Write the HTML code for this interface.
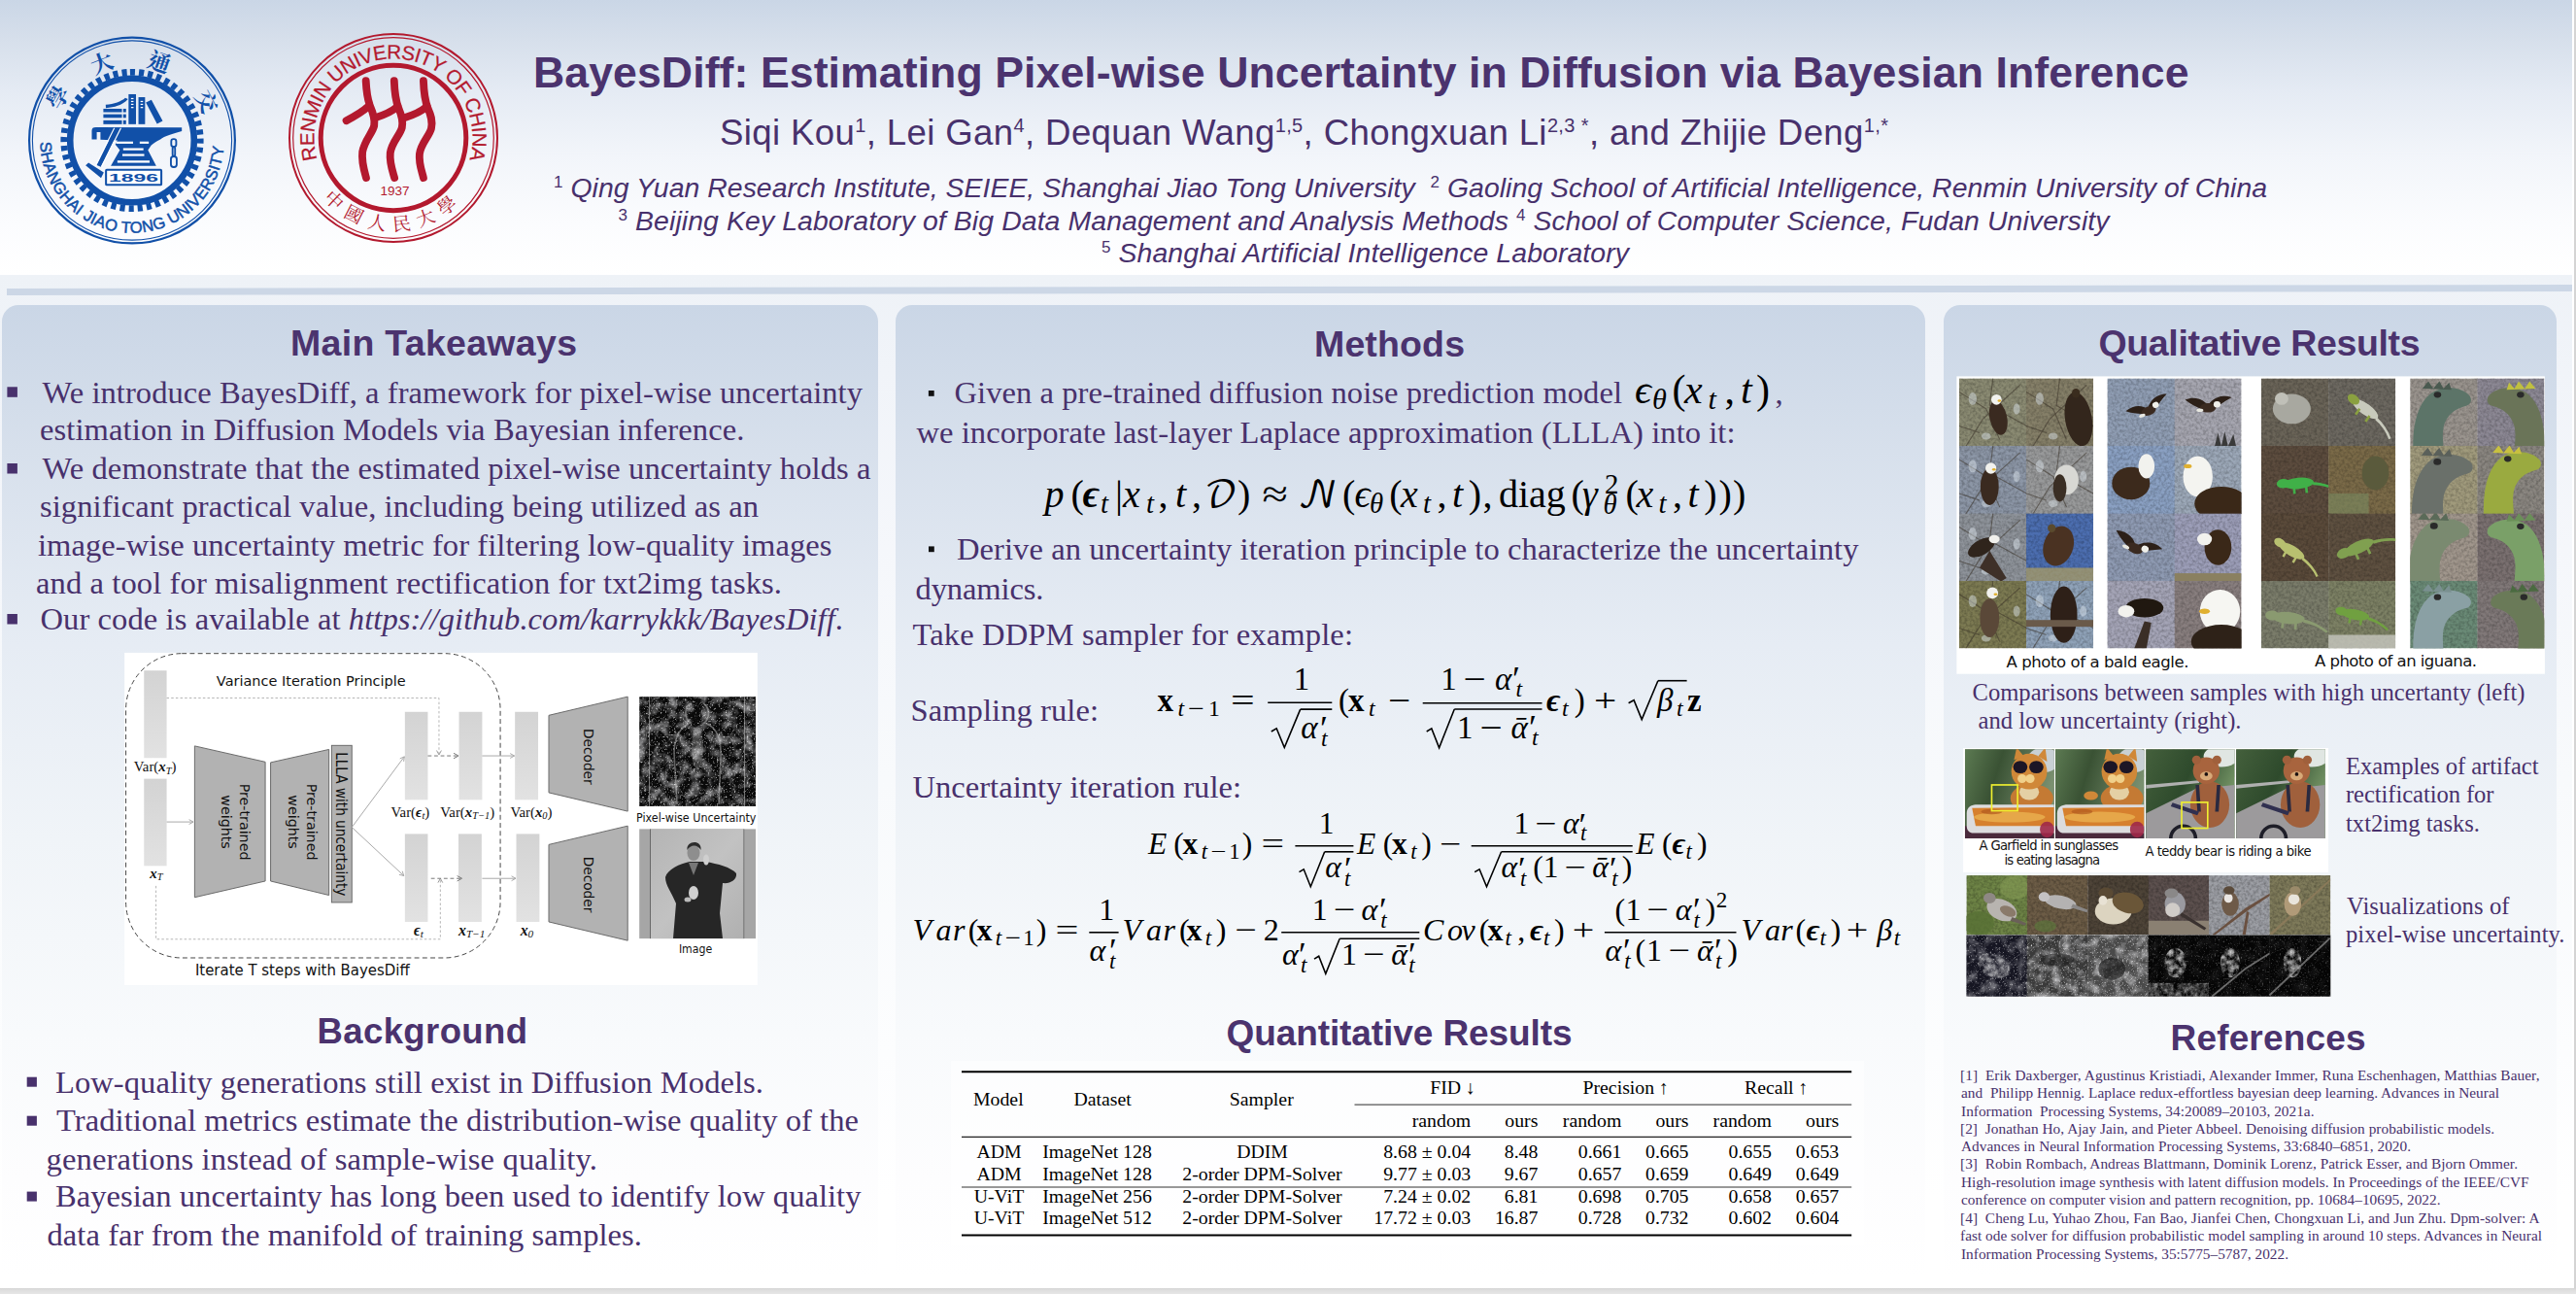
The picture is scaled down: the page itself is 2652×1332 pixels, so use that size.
<!DOCTYPE html>
<html><head><meta charset="utf-8"><title>BayesDiff poster</title><style>

*{margin:0;padding:0;box-sizing:border-box}
html,body{width:2652px;height:1332px;overflow:hidden;background:linear-gradient(#d4d4d4 1326px,#dedede 1328px,#e6e6e6 1332px)}
#poster{position:absolute;left:0;top:0;width:2650px;height:1326px;background:#fff;overflow:hidden}
#bg{position:absolute;left:0;top:283px;width:2648px;height:1043px;background:linear-gradient(#eef2f7 0,#f1f4f9 100px,#f5f7fb 280px,#f8fafc 520px,#fcfdfe 800px,#fff 950px)}
#header{position:absolute;left:0;top:0;width:2648px;height:283px;border-radius:0 0 6px 6px;background:linear-gradient(#cad6e6 0,#d6dfeb 40px,#e5ebf4 95px,#f2f5fa 160px,#fbfcfe 230px,#fff 283px)}
#bar{position:absolute;left:7px;top:297px;width:2641px;height:7px;background:#ccd7e6;transform-origin:0 0;transform:rotate(-0.087deg)}
.panel{position:absolute;top:314px;height:1012px;border-radius:17px 17px 0 0;background:linear-gradient(#cad6e6 0,#d7e0ec 150px,#e6ecf4 350px,#f0f4f8 550px,#f8fafc 750px,#fdfdfe 900px,#fff 1000px)}
#ov{position:absolute;left:0;top:0}
#ov text{white-space:pre}

</style></head><body>
<div id="poster"><div id="bg"></div><div id="header"></div><div id="bar"></div>
<div class="panel" style="left:2px;width:902px"></div>
<div class="panel" style="left:922px;width:1060px"></div>
<div class="panel" style="left:2001px;width:631px"></div></div>
<svg id="ov" width="2652" height="1332" viewBox="0 0 2652 1332">
<defs>
<linearGradient id="gbar" x1="0" y1="0" x2="0" y2="1"><stop offset="0" stop-color="#d3d3d3"/><stop offset="1" stop-color="#e2e2e2"/></linearGradient>
<linearGradient id="gphoto" x1="0" y1="0" x2="1" y2="1"><stop offset="0" stop-color="#b4b4b4"/><stop offset="0.5" stop-color="#c2c2c2"/><stop offset="1" stop-color="#b0b0b0"/></linearGradient>
<filter id="noise" x="0" y="0" width="100%" height="100%"><feTurbulence type="fractalNoise" baseFrequency="0.22" numOctaves="4" seed="3"/><feColorMatrix type="matrix" values="0 0 0 0 0.85  0 0 0 0 0.85  0 0 0 0 0.88  1.5 0 0 0 -0.62"/></filter>
<filter id="tex1" x="0" y="0" width="100%" height="100%"><feTurbulence type="fractalNoise" baseFrequency="0.35" numOctaves="2" seed="7"/><feColorMatrix type="matrix" values="0 0 0 0 0  0 0 0 0 0  0 0 0 0 0  2.2 0 0 0 -0.8"/></filter>
<filter id="noise2" x="0" y="0" width="100%" height="100%"><feTurbulence type="fractalNoise" baseFrequency="0.3" numOctaves="3" seed="11"/><feColorMatrix type="matrix" values="0 0 0 0 0.85  0 0 0 0 0.85  0 0 0 0 0.85  1.5 0 0 0 -0.62"/></filter>
<linearGradient id="gforest" x1="0" y1="0" x2="1" y2="0.3"><stop offset="0" stop-color="#5c7a52"/><stop offset="0.4" stop-color="#3a5234"/><stop offset="1" stop-color="#7a9070"/></linearGradient>
<linearGradient id="gtrees" x1="0" y1="0" x2="1" y2="0.5"><stop offset="0" stop-color="#44603c"/><stop offset="0.5" stop-color="#2e4a2c"/><stop offset="1" stop-color="#7a9a6a"/></linearGradient>
<filter id="cloud" x="0" y="0" width="100%" height="100%"><feTurbulence type="fractalNoise" baseFrequency="0.09" numOctaves="3" seed="5"/><feColorMatrix type="matrix" values="0 0 0 0 0.8  0 0 0 0 0.8  0 0 0 0 0.82  1.5 0 0 0 -0.62"/></filter>
<filter id="speck" x="0" y="0" width="100%" height="100%"><feTurbulence type="fractalNoise" baseFrequency="0.55" numOctaves="2" seed="9"/><feColorMatrix type="matrix" values="0 0 0 0 0.9  0 0 0 0 0.9  0 0 0 0 0.9  2.8 0 0 0 -1.6"/></filter>
<filter id="cloudin" x="0" y="0" width="100%" height="100%"><feTurbulence type="fractalNoise" baseFrequency="0.12" numOctaves="3" seed="4"/><feColorMatrix type="matrix" values="0 0 0 0 0.85  0 0 0 0 0.85  0 0 0 0 0.85  1.5 0 0 0 -0.45"/><feComposite in2="SourceAlpha" operator="in"/></filter>
</defs>
<text x="549.0" y="90.0" font-size="44.6" font-family="'Liberation Sans', Arial, sans-serif" fill="#4b336e" font-weight="bold" textLength="1704.5" lengthAdjust="spacing">BayesDiff: Estimating Pixel-wise Uncertainty in Diffusion via Bayesian Inference</text>
<text x="741.0" y="148.7" font-size="36.6" font-family="'Liberation Sans', Arial, sans-serif" fill="#48316c" textLength="1203.0" lengthAdjust="spacing"><tspan dy="0">Siqi Kou</tspan><tspan font-size="20" dy="-12.5" >1</tspan><tspan dy="12.5">, Lei Gan</tspan><tspan font-size="20" dy="-12.5" >4</tspan><tspan dy="12.5">, Dequan Wang</tspan><tspan font-size="20" dy="-12.5" >1,5</tspan><tspan dy="12.5">, Chongxuan Li</tspan><tspan font-size="20" dy="-12.5" >2,3 *</tspan><tspan dy="12.5">, and Zhijie Deng</tspan><tspan font-size="20" dy="-12.5" >1,*</tspan></text>
<text x="570.0" y="202.6" font-size="28.4" font-family="'Liberation Sans', Arial, sans-serif" fill="#48316c" font-style="italic" textLength="1764.0" lengthAdjust="spacing"><tspan font-size="17" dy="-10" font-style="normal">1</tspan><tspan dy="10"> Qing Yuan Research Institute, SEIEE, Shanghai Jiao Tong University  </tspan><tspan font-size="17" dy="-10" font-style="normal">2</tspan><tspan dy="10"> Gaoling School of Artificial Intelligence, Renmin University of China</tspan></text>
<text x="636.5" y="236.8" font-size="28.4" font-family="'Liberation Sans', Arial, sans-serif" fill="#48316c" font-style="italic" textLength="1535.0" lengthAdjust="spacing"><tspan font-size="17" dy="-10" font-style="normal">3</tspan><tspan dy="10"> Beijing Key Laboratory of Big Data Management and Analysis Methods </tspan><tspan font-size="17" dy="-10" font-style="normal">4</tspan><tspan dy="10"> School of Computer Science, Fudan University</tspan></text>
<text x="1134.0" y="269.5" font-size="28.4" font-family="'Liberation Sans', Arial, sans-serif" fill="#48316c" font-style="italic" textLength="543.0" lengthAdjust="spacing"><tspan font-size="17" dy="-10" font-style="normal">5</tspan><tspan dy="10"> Shanghai Artificial Intelligence Laboratory</tspan></text>
<g><circle cx="136" cy="144.5" r="105.9" fill="none" stroke="#1150a8" stroke-width="2.2"/><circle cx="136" cy="144.5" r="102.6" fill="none" stroke="#1150a8" stroke-width="1.1"/><circle cx="136" cy="144.5" r="63.8" fill="none" stroke="#1150a8" stroke-width="6.6"/><circle cx="136" cy="144.5" r="70.2" fill="none" stroke="#1150a8" stroke-width="6.8" stroke-dasharray="5.146 4.043" transform="rotate(-91.7 136 144.5)"/><path id="sjtuarc" d="M41.50,145.32 A94.5,94.5 0 0 0 230.50,145.32" fill="none"/><text font-family="'Liberation Sans', Arial, sans-serif" font-size="16.5" fill="#1150a8" stroke="#1150a8" stroke-width="0.5"><textPath href="#sjtuarc" startOffset="1" textLength="289.9" lengthAdjust="spacing">SHANGHAI JIAO TONG UNIVERSITY</textPath></text><text x="0" y="8" font-family="'Liberation Serif', 'Noto Serif CJK TC', 'Noto Serif CJK SC', serif" font-size="23" font-weight="bold" fill="#1150a8" text-anchor="middle" transform="translate(59.9,100.2) rotate(-59.8)">學</text><text x="0" y="8" font-family="'Liberation Serif', 'Noto Serif CJK TC', 'Noto Serif CJK SC', serif" font-size="23" font-weight="bold" fill="#1150a8" text-anchor="middle" transform="translate(105.1,65.3) rotate(-21.3)">大</text><text x="0" y="8" font-family="'Liberation Serif', 'Noto Serif CJK TC', 'Noto Serif CJK SC', serif" font-size="23" font-weight="bold" fill="#1150a8" text-anchor="middle" transform="translate(163.8,64.2) rotate(19.1)">通</text><text x="0" y="8" font-family="'Liberation Serif', 'Noto Serif CJK TC', 'Noto Serif CJK SC', serif" font-size="23" font-weight="bold" fill="#1150a8" text-anchor="middle" transform="translate(212.2,104.7) rotate(62.4)">交</text><g fill="#1150a8" transform="translate(86,90) scale(0.08503)"><rect x="240" y="258" width="225" height="42"/><rect x="240" y="325" width="225" height="43"/><rect x="240" y="398" width="225" height="47"/><rect x="480" y="258" width="35" height="42"/><rect x="480" y="325" width="35" height="43"/><rect x="480" y="398" width="35" height="47"/><path d="M268,210 L270,250 C380,240 460,212 512,168 L538,142 L505,126 C455,172 372,198 268,210 Z"/><rect x="545" y="82" width="90" height="363"/><rect x="665" y="118" width="80" height="327"/><path d="M755,182 L822,150 L958,405 L890,442 Z"/><path d="M100,525 C100,492 115,482 150,482 L1190,486 L1190,530 C1080,560 980,590 930,630 C880,650 850,680 820,700 L780,760 L880,950 L330,950 L440,760 L385,690 L410,640 L205,632 L205,540 L160,540 L160,628 L100,628 Z"/><path d="M380,495 L440,495 L210,960 L160,940 Z"/><path d="M25,945 L60,910 L245,1030 L212,1098 Z"/><g fill="none" stroke="#1150a8" stroke-width="22"><rect x="1062" y="625" width="60" height="95" rx="28"/><rect x="1078" y="720" width="30" height="110" rx="15"/><rect x="1058" y="835" width="70" height="130" rx="32"/></g><rect x="272" y="997" width="670" height="182" rx="10" fill="#fff" stroke="#1150a8" stroke-width="24"/><g fill="#fff"><rect x="395" y="655" width="205" height="26"/><rect x="680" y="655" width="110" height="26"/><rect x="480" y="735" width="245" height="26"/><rect x="470" y="805" width="265" height="26"/><rect x="410" y="885" width="390" height="27"/><rect x="575" y="128" width="30" height="14"/><rect x="575" y="163" width="30" height="14"/><rect x="575" y="198" width="30" height="14"/><rect x="575" y="236" width="30" height="14"/><rect x="690" y="163" width="30" height="14"/><rect x="690" y="198" width="30" height="14"/><rect x="690" y="236" width="30" height="14"/><path d="M365,490 L380,490 L150,950 L140,945 Z"/><path d="M445,490 L460,490 L225,960 L212,955 Z"/></g><text x="607" y="1137" font-family="'Liberation Sans', Arial, sans-serif" font-weight="bold" font-size="128" fill="#1150a8" text-anchor="middle" textLength="600" lengthAdjust="spacingAndGlyphs">1896</text></g></g>
<g><circle cx="405" cy="142" r="107" fill="none" stroke="#b3192e" stroke-width="2"/><circle cx="405" cy="142" r="103.3" fill="none" stroke="#b3192e" stroke-width="1.2"/><circle cx="405" cy="142" r="74.8" fill="none" stroke="#b3192e" stroke-width="5"/><path id="rucarc" d="M327.06,165.83 A81.5,81.5 0 1 1 482.94,165.83" fill="none"/><text font-family="'Liberation Sans', Arial, sans-serif" font-size="20.5" fill="#b3192e" stroke="#b3192e" stroke-width="0.25"><textPath href="#rucarc" startOffset="2" textLength="300.4" lengthAdjust="spacing">RENMIN UNIVERSITY OF CHINA</textPath></text><text x="0" y="7" font-family="'Liberation Serif', 'Noto Serif CJK TC', 'Noto Serif CJK SC', serif" font-size="19" fill="#b3192e" text-anchor="middle" transform="translate(344.0,206.1) rotate(43.6)">中</text><text x="0" y="7" font-family="'Liberation Serif', 'Noto Serif CJK TC', 'Noto Serif CJK SC', serif" font-size="19" fill="#b3192e" text-anchor="middle" transform="translate(364.5,220.7) rotate(27.2)">國</text><text x="0" y="7" font-family="'Liberation Serif', 'Noto Serif CJK TC', 'Noto Serif CJK SC', serif" font-size="19" fill="#b3192e" text-anchor="middle" transform="translate(388.4,228.9) rotate(10.8)">人</text><text x="0" y="7" font-family="'Liberation Serif', 'Noto Serif CJK TC', 'Noto Serif CJK SC', serif" font-size="19" fill="#b3192e" text-anchor="middle" transform="translate(413.5,230.1) rotate(-5.5)">民</text><text x="0" y="7" font-family="'Liberation Serif', 'Noto Serif CJK TC', 'Noto Serif CJK SC', serif" font-size="19" fill="#b3192e" text-anchor="middle" transform="translate(438.0,224.1) rotate(-21.9)">大</text><text x="0" y="7" font-family="'Liberation Serif', 'Noto Serif CJK TC', 'Noto Serif CJK SC', serif" font-size="19" fill="#b3192e" text-anchor="middle" transform="translate(459.9,211.5) rotate(-38.3)">學</text><text x="406.5" y="201" font-family="'Liberation Sans', Arial, sans-serif" font-size="13.5" fill="#b3192e" text-anchor="middle">1937</text><g fill="none" stroke="#b3192e" stroke-width="78" stroke-linecap="round" transform="translate(340,70) scale(0.10046)"><path d="M365,130 C370,230 375,300 405,380 C435,450 462,520 450,590 C438,660 350,740 330,860 C318,960 350,1060 368,1125"/><path d="M655,130 C658,230 665,320 700,410 C730,480 750,540 735,610 C715,690 630,760 615,870 C605,970 640,1060 658,1125"/><path d="M955,130 C958,230 965,320 1000,410 C1030,480 1052,540 1035,620 C1015,700 930,770 915,880 C905,980 940,1060 955,1125"/><path d="M395,390 C340,440 260,490 165,540"/><path d="M690,395 C640,440 560,480 460,510"/><path d="M990,395 C940,440 860,480 760,510"/></g></g>
<text x="299.0" y="365.9" font-size="37.5" font-family="'Liberation Sans', Arial, sans-serif" fill="#4b336e" font-weight="bold" textLength="295.0" lengthAdjust="spacing">Main Takeaways</text>
<text x="43.5" y="414.6" font-size="32.6" font-family="'Liberation Serif', 'Times New Roman', serif" fill="#48316c" textLength="844.5" lengthAdjust="spacing">We introduce BayesDiff, a framework for pixel-wise uncertainty</text>
<text x="41.0" y="453.4" font-size="32.6" font-family="'Liberation Serif', 'Times New Roman', serif" fill="#48316c" textLength="725.5" lengthAdjust="spacing">estimation in Diffusion Models via Bayesian inference.</text>
<text x="43.5" y="493.4" font-size="32.6" font-family="'Liberation Serif', 'Times New Roman', serif" fill="#48316c" textLength="853.0" lengthAdjust="spacing">We demonstrate that the estimated pixel-wise uncertainty holds a</text>
<text x="41.0" y="532.2" font-size="32.6" font-family="'Liberation Serif', 'Times New Roman', serif" fill="#48316c" textLength="740.0" lengthAdjust="spacing">significant practical value, including being utilized as an</text>
<text x="39.0" y="571.6" font-size="32.6" font-family="'Liberation Serif', 'Times New Roman', serif" fill="#48316c" textLength="817.5" lengthAdjust="spacing">image-wise uncertainty metric for filtering low-quality images</text>
<text x="37.0" y="611.0" font-size="32.6" font-family="'Liberation Serif', 'Times New Roman', serif" fill="#48316c" textLength="768.0" lengthAdjust="spacing">and a tool for misalignment rectification for txt2img tasks.</text>
<text x="41.5" y="648.3" font-size="32.6" font-family="'Liberation Serif', 'Times New Roman', serif" fill="#48316c" textLength="826.5" lengthAdjust="spacing">Our code is available at <tspan font-style="italic">https://github.com/karrykkk/BayesDiff</tspan>.</text>
<rect x="7.4" y="398.3" width="10.5" height="10.5" fill="#48316c" />
<rect x="7.4" y="477.0" width="10.5" height="10.5" fill="#48316c" />
<rect x="7.4" y="632.0" width="10.5" height="10.5" fill="#48316c" />
<text x="326.5" y="1074.1" font-size="36.5" font-family="'Liberation Sans', Arial, sans-serif" fill="#4b336e" font-weight="bold" textLength="216.5" lengthAdjust="spacing">Background</text>
<text x="57.0" y="1125.0" font-size="32.6" font-family="'Liberation Serif', 'Times New Roman', serif" fill="#48316c" textLength="729.0" lengthAdjust="spacing">Low-quality generations still exist in Diffusion Models.</text>
<text x="58.0" y="1163.9" font-size="32.6" font-family="'Liberation Serif', 'Times New Roman', serif" fill="#48316c" textLength="826.0" lengthAdjust="spacing">Traditional metrics estimate the distribution-wise quality of the</text>
<text x="47.5" y="1203.9" font-size="32.6" font-family="'Liberation Serif', 'Times New Roman', serif" fill="#48316c" textLength="567.5" lengthAdjust="spacing">generations instead of sample-wise quality.</text>
<text x="57.0" y="1241.8" font-size="32.6" font-family="'Liberation Serif', 'Times New Roman', serif" fill="#48316c" textLength="829.5" lengthAdjust="spacing">Bayesian uncertainty has long been used to identify low quality</text>
<text x="48.5" y="1281.8" font-size="32.6" font-family="'Liberation Serif', 'Times New Roman', serif" fill="#48316c" textLength="612.5" lengthAdjust="spacing">data far from the manifold of training samples.</text>
<rect x="27.7" y="1108.7" width="10.2" height="10.0" fill="#48316c" />
<rect x="27.7" y="1148.7" width="10.2" height="10.0" fill="#48316c" />
<rect x="27.7" y="1226.6" width="10.2" height="10.0" fill="#48316c" />
<rect x="128.2" y="671.9" width="651.6" height="342.1" fill="#fff" />
<g transform="translate(120,665) scale(0.27435)"><rect x="35" y="28" width="1405" height="1142" rx="210" fill="none" stroke="#444" stroke-width="3.6" stroke-dasharray="18 12"/><rect x="103" y="92" width="85" height="328" fill="url(#gbar)"/><rect x="103" y="498" width="85" height="327" fill="url(#gbar)"/><rect x="1082" y="247" width="86" height="330" fill="url(#gbar)"/><rect x="1285" y="247" width="87" height="330" fill="url(#gbar)"/><rect x="1495" y="247" width="87" height="330" fill="url(#gbar)"/><rect x="1082" y="705" width="86" height="330" fill="url(#gbar)"/><rect x="1283" y="705" width="87" height="330" fill="url(#gbar)"/><rect x="1500" y="705" width="87" height="330" fill="url(#gbar)"/><polygon points="293,375 558,435 558,882 293,943" fill="#b2b2b2" stroke="#6a6a6a" stroke-width="3.6"/><polygon points="578,437 797,388 797,935 578,882" fill="#b2b2b2" stroke="#6a6a6a" stroke-width="3.6"/><rect x="807" y="373" width="76" height="589" fill="#b2b2b2" stroke="#6a6a6a" stroke-width="3.6"/><polygon points="1622,260 1918,190 1918,620 1622,550" fill="#b2b2b2" stroke="#6a6a6a" stroke-width="3.6"/><polygon points="1622,745 1918,675 1918,1105 1622,1035" fill="#b2b2b2" stroke="#6a6a6a" stroke-width="3.6"/><line x1="188" y1="660" x2="288" y2="660" stroke="#a8a8a8" stroke-width="3.6"/><path d="M272.0,668.8 L288.0,660.0 L272.0,651.2" fill="none" stroke="#a8a8a8" stroke-width="3.6"/><line x1="883" y1="680" x2="1080" y2="415" stroke="#a8a8a8" stroke-width="3.6"/><path d="M1077.5,433.1 L1080.0,415.0 L1063.4,422.6" fill="none" stroke="#a8a8a8" stroke-width="3.6"/><line x1="883" y1="680" x2="1078" y2="862" stroke="#a8a8a8" stroke-width="3.6"/><path d="M1060.3,857.5 L1078.0,862.0 L1072.3,844.6" fill="none" stroke="#a8a8a8" stroke-width="3.6"/><line x1="1372" y1="412" x2="1493" y2="412" stroke="#a8a8a8" stroke-width="3.6"/><path d="M1477.0,420.8 L1493.0,412.0 L1477.0,403.2" fill="none" stroke="#a8a8a8" stroke-width="3.6"/><line x1="1372" y1="872" x2="1498" y2="872" stroke="#a8a8a8" stroke-width="3.6"/><path d="M1482.0,880.8 L1498.0,872.0 L1482.0,863.2" fill="none" stroke="#a8a8a8" stroke-width="3.6"/><polyline points="188,195 1210,195 1210,408" fill="none" stroke="#aaa" stroke-width="3.2" stroke-dasharray="9 8"/><path d="M1201.2,392.0 L1210.0,408.0 L1218.8,392.0" fill="none" stroke="#999" stroke-width="3.6"/><line x1="1168" y1="412" x2="1283" y2="412" stroke="#777" stroke-width="3.6" stroke-dasharray="14 10"/><path d="M1265.0,421.9 L1283.0,412.0 L1265.0,402.1" fill="none" stroke="#777" stroke-width="3.6"/><polyline points="148,900 148,1100 1215,1100 1215,872" fill="none" stroke="#aaa" stroke-width="3.2" stroke-dasharray="9 8"/><path d="M1223.8,888.0 L1215.0,872.0 L1206.2,888.0" fill="none" stroke="#999" stroke-width="3.6"/><line x1="1180" y1="872" x2="1296" y2="872" stroke="#777" stroke-width="3.6" stroke-dasharray="14 10"/><path d="M1278.0,881.9 L1296.0,872.0 L1278.0,862.1" fill="none" stroke="#777" stroke-width="3.6"/><text x="375" y="150" font-family="'DejaVu Sans', 'Liberation Sans', sans-serif" font-size="52" fill="#111" textLength="710" lengthAdjust="spacingAndGlyphs">Variance Iteration Principle</text><text x="295" y="1235" font-family="'DejaVu Sans', 'Liberation Sans', sans-serif" font-size="56" fill="#111" textLength="805" lengthAdjust="spacingAndGlyphs">Iterate T steps with BayesDiff</text><text x="1950" y="660" font-family="'DejaVu Sans', 'Liberation Sans', sans-serif" font-size="44" fill="#111" textLength="450" lengthAdjust="spacingAndGlyphs">Pixel-wise Uncertainty</text><text x="2110" y="1150" font-family="'DejaVu Sans', 'Liberation Sans', sans-serif" font-size="44" fill="#111" textLength="125" lengthAdjust="spacingAndGlyphs">Image</text><text x="463" y="660" font-family="'DejaVu Sans', 'Liberation Sans', sans-serif" font-size="52" fill="#111" text-anchor="middle" transform="rotate(90 463 660)">Pre-trained</text><text x="395" y="660" font-family="'DejaVu Sans', 'Liberation Sans', sans-serif" font-size="52" fill="#111" text-anchor="middle" transform="rotate(90 395 660)">weights</text><text x="713" y="660" font-family="'DejaVu Sans', 'Liberation Sans', sans-serif" font-size="52" fill="#111" text-anchor="middle" transform="rotate(90 713 660)">Pre-trained</text><text x="645" y="660" font-family="'DejaVu Sans', 'Liberation Sans', sans-serif" font-size="52" fill="#111" text-anchor="middle" transform="rotate(90 645 660)">weights</text><text x="825" y="668" font-family="'DejaVu Sans', 'Liberation Sans', sans-serif" font-size="56" fill="#111" textLength="540" lengthAdjust="spacingAndGlyphs" text-anchor="middle" transform="rotate(90 825 668)">LLLA with uncertainty</text><text x="1755" y="415" font-family="'DejaVu Sans', 'Liberation Sans', sans-serif" font-size="50" fill="#111" text-anchor="middle" transform="rotate(90 1755 415)">Decoder</text><text x="1755" y="895" font-family="'DejaVu Sans', 'Liberation Sans', sans-serif" font-size="50" fill="#111" text-anchor="middle" transform="rotate(90 1755 895)">Decoder</text><text x="65" y="470" font-family="'Liberation Serif', 'Times New Roman', serif" font-size="54" fill="#111"><tspan dy="0">Var(</tspan><tspan dy="0" font-weight="bold" font-style="italic">x</tspan><tspan font-style="italic" font-size="38" dy="10">T</tspan><tspan dy="-10">)</tspan></text><text x="125" y="870" font-family="'Liberation Serif', 'Times New Roman', serif" font-size="54" fill="#111"><tspan dy="0" font-weight="bold" font-style="italic">x</tspan><tspan font-style="italic" font-size="38" dy="10">T</tspan></text><text x="1030" y="640" font-family="'Liberation Serif', 'Times New Roman', serif" font-size="54" fill="#111"><tspan dy="0">Var(</tspan><tspan dy="0" font-weight="bold" font-style="italic">ϵ</tspan><tspan font-style="italic" font-size="38" dy="10">t</tspan><tspan dy="-10">)</tspan></text><text x="1215" y="640" font-family="'Liberation Serif', 'Times New Roman', serif" font-size="54" fill="#111"><tspan dy="0">Var(</tspan><tspan dy="0" font-weight="bold" font-style="italic">x</tspan><tspan font-style="italic" font-size="38" dy="10">T−1</tspan><tspan dy="-10">)</tspan></text><text x="1478" y="640" font-family="'Liberation Serif', 'Times New Roman', serif" font-size="54" fill="#111"><tspan dy="0">Var(</tspan><tspan dy="0" font-weight="bold" font-style="italic">x</tspan><tspan font-style="italic" font-size="38" dy="10">0</tspan><tspan dy="-10">)</tspan></text><text x="1115" y="1085" font-family="'Liberation Serif', 'Times New Roman', serif" font-size="58" fill="#111"><tspan dy="0" font-weight="bold" font-style="italic">ϵ</tspan><tspan font-style="italic" font-size="41" dy="10">t</tspan></text><text x="1283" y="1085" font-family="'Liberation Serif', 'Times New Roman', serif" font-size="58" fill="#111"><tspan dy="0" font-weight="bold" font-style="italic">x</tspan><tspan font-style="italic" font-size="41" dy="10">T−1</tspan></text><text x="1515" y="1085" font-family="'Liberation Serif', 'Times New Roman', serif" font-size="58" fill="#111"><tspan dy="0" font-weight="bold" font-style="italic">x</tspan><tspan font-style="italic" font-size="41" dy="10">0</tspan></text></g>
<rect x="658.2" y="717.2" width="119.8" height="112.7" fill="#0a0a0a" />
<rect x="658.2" y="717.2" width="119.8" height="112.7" fill="#fff" filter="url(#cloud)"/>
<rect x="658.2" y="717.2" width="119.8" height="112.7" fill="#fff" filter="url(#speck)"/>
<line x1="668.5" y1="717.2" x2="668.5" y2="829.9" stroke="#ddd" stroke-width="0.8" opacity="0.6"/>
<line x1="766.5" y1="717.2" x2="766.5" y2="829.9" stroke="#ddd" stroke-width="0.8" opacity="0.6"/>
<path d="M712,724 C704,726 704,740 711,744 C700,748 694,760 694,775 L697,828 M724,724 C731,728 731,740 725,744 C738,748 743,760 742,780 L740,828" fill="none" stroke="#ccc" stroke-width="1.6" opacity="0.45"/>
<ellipse cx="718" cy="770" rx="6" ry="22" fill="#ddd" opacity="0.25"/>
<rect x="658.2" y="853.4" width="119.8" height="112.7" fill="#a6a6a6" />
<rect x="669.5" y="853.4" width="96.3" height="112.7" fill="url(#gphoto)" />
<line x1="669.5" y1="853.4" x2="669.5" y2="966.1" stroke="#555" stroke-width="0.8" />
<line x1="765.8" y1="853.4" x2="765.8" y2="966.1" stroke="#666" stroke-width="0.8" />
<g transform="translate(0,5)"><path d="M693,961 L696,925 C691,913 685,906 685,898 C687,890 700,884 710,882 L726,882 C739,884 753,888 758,894 C759,901 751,905 744,904 L741,935 L744,961 Z" fill="#262626"/><ellipse cx="714" cy="873" rx="6.5" ry="8" fill="#8e8e8e"/><path d="M707.5,870 C706,860 723,859 721.5,870 C718,864 711,864 707.5,870 Z" fill="#2c2c2c"/><ellipse cx="714" cy="914" rx="5" ry="7" fill="#cfcfcf"/><ellipse cx="727" cy="880" rx="3" ry="5.5" fill="#cfcfcf"/><ellipse cx="708" cy="921" rx="3.5" ry="2.5" fill="#bbb"/><path d="M709,883 L714,896 L719,883 Z" fill="#777"/></g>
<text x="1353.0" y="367.0" font-size="37.5" font-family="'Liberation Sans', Arial, sans-serif" fill="#4b336e" font-weight="bold" textLength="155.0" lengthAdjust="spacing">Methods</text>
<rect x="955.9" y="402.0" width="5.8" height="5.8" fill="#111" />
<rect x="956.0" y="562.4" width="5.8" height="5.8" fill="#111" />
<text x="982.5" y="415.2" font-size="32.6" font-family="'Liberation Serif', 'Times New Roman', serif" fill="#48316c" textLength="687.5" lengthAdjust="spacing">Given a pre-trained diffusion noise prediction model</text>
<text x="1683.0" y="415.4" font-size="42.0" fill="#000" font-family="'Liberation Serif', 'DejaVu Serif', serif" font-style="italic">ϵ</text>
<text x="1701.0" y="421.4" font-size="30.2" fill="#000" font-family="'Liberation Serif', 'DejaVu Serif', serif" font-style="italic">θ</text>
<text x="1721.5" y="415.4" font-size="42.0" fill="#000" font-family="'Liberation Serif', 'DejaVu Serif', serif">(</text>
<text x="1734.0" y="415.4" font-size="42.0" fill="#000" font-family="'Liberation Serif', 'DejaVu Serif', serif" font-style="italic">x</text>
<text x="1758.5" y="421.4" font-size="30.2" fill="#000" font-family="'Liberation Serif', 'DejaVu Serif', serif" font-style="italic">t</text>
<text x="1775.5" y="415.4" font-size="42.0" fill="#000" font-family="'Liberation Serif', 'DejaVu Serif', serif">,</text>
<text x="1792.0" y="415.4" font-size="42.0" fill="#000" font-family="'Liberation Serif', 'DejaVu Serif', serif" font-style="italic">t</text>
<text x="1808.0" y="415.4" font-size="42.0" fill="#000" font-family="'Liberation Serif', 'DejaVu Serif', serif">)</text>
<text x="1827.5" y="415.2" font-size="32.6" font-family="'Liberation Serif', 'Times New Roman', serif" fill="#48316c">,</text>
<text x="943.5" y="456.0" font-size="32.6" font-family="'Liberation Serif', 'Times New Roman', serif" fill="#48316c" textLength="843.0" lengthAdjust="spacing">we incorporate last-layer Laplace approximation (LLLA) into it:</text>
<text x="1075.5" y="521.6" font-size="40.0" fill="#000" font-family="'Liberation Serif', 'DejaVu Serif', serif" font-style="italic">p</text>
<text x="1102.5" y="521.6" font-size="40.0" fill="#000" font-family="'Liberation Serif', 'DejaVu Serif', serif">(</text>
<text x="1114.5" y="521.6" font-size="40.0" fill="#000" font-family="'Liberation Serif', 'DejaVu Serif', serif" font-weight="bold" font-style="italic">ϵ</text>
<text x="1133.0" y="527.6" font-size="28.8" fill="#000" font-family="'Liberation Serif', 'DejaVu Serif', serif" font-style="italic">t</text>
<text x="1148.0" y="521.6" font-size="40.0" fill="#000" font-family="'Liberation Serif', 'DejaVu Serif', serif">|</text>
<text x="1156.0" y="521.6" font-size="40.0" fill="#000" font-family="'Liberation Serif', 'DejaVu Serif', serif" font-style="italic">x</text>
<text x="1180.0" y="527.6" font-size="28.8" fill="#000" font-family="'Liberation Serif', 'DejaVu Serif', serif" font-style="italic">t</text>
<text x="1192.5" y="521.6" font-size="40.0" fill="#000" font-family="'Liberation Serif', 'DejaVu Serif', serif">,</text>
<text x="1210.0" y="521.6" font-size="40.0" fill="#000" font-family="'Liberation Serif', 'DejaVu Serif', serif" font-style="italic">t</text>
<text x="1227.0" y="521.6" font-size="40.0" fill="#000" font-family="'Liberation Serif', 'DejaVu Serif', serif">,</text>
<text x="1240.0" y="521.6" font-size="36.8" fill="#000" font-family="'DejaVu Math TeX Gyre', 'DejaVu Serif', serif">𝒟</text>
<text x="1274.0" y="521.6" font-size="40.0" fill="#000" font-family="'Liberation Serif', 'DejaVu Serif', serif">)</text>
<text x="1082.92" y="521.6" transform="scale(1.2,1)" font-size="40.0" fill="#000" font-family="'Liberation Serif', 'DejaVu Serif', serif">≈</text>
<text x="1336.0" y="521.6" font-size="36.8" fill="#000" font-family="'DejaVu Math TeX Gyre', 'DejaVu Serif', serif">𝒩</text>
<text x="1382.0" y="521.6" font-size="40.0" fill="#000" font-family="'Liberation Serif', 'DejaVu Serif', serif">(</text>
<text x="1394.5" y="521.6" font-size="40.0" fill="#000" font-family="'Liberation Serif', 'DejaVu Serif', serif" font-style="italic">ϵ</text>
<text x="1410.0" y="527.6" font-size="28.8" fill="#000" font-family="'Liberation Serif', 'DejaVu Serif', serif" font-style="italic">θ</text>
<text x="1430.2" y="521.6" font-size="40.0" fill="#000" font-family="'Liberation Serif', 'DejaVu Serif', serif">(</text>
<text x="1442.0" y="521.6" font-size="40.0" fill="#000" font-family="'Liberation Serif', 'DejaVu Serif', serif" font-style="italic">x</text>
<text x="1465.0" y="527.6" font-size="28.8" fill="#000" font-family="'Liberation Serif', 'DejaVu Serif', serif" font-style="italic">t</text>
<text x="1479.5" y="521.6" font-size="40.0" fill="#000" font-family="'Liberation Serif', 'DejaVu Serif', serif">,</text>
<text x="1495.0" y="521.6" font-size="40.0" fill="#000" font-family="'Liberation Serif', 'DejaVu Serif', serif" font-style="italic">t</text>
<text x="1511.8" y="521.6" font-size="40.0" fill="#000" font-family="'Liberation Serif', 'DejaVu Serif', serif">)</text>
<text x="1526.5" y="521.6" font-size="40.0" fill="#000" font-family="'Liberation Serif', 'DejaVu Serif', serif">,</text>
<text x="1543.0" y="521.6" font-size="40.0" fill="#000" font-family="'Liberation Serif', 'DejaVu Serif', serif">diag</text>
<text x="1617.4" y="521.6" font-size="40.0" fill="#000" font-family="'Liberation Serif', 'DejaVu Serif', serif">(</text>
<text x="1629.0" y="521.6" font-size="40.0" fill="#000" font-family="'Liberation Serif', 'DejaVu Serif', serif" font-style="italic">γ</text>
<text x="1652.0" y="507.6" font-size="28.8" fill="#000" font-family="'Liberation Serif', 'DejaVu Serif', serif">2</text>
<text x="1650.5" y="528.6" font-size="28.8" fill="#000" font-family="'Liberation Serif', 'DejaVu Serif', serif" font-style="italic">θ</text>
<text x="1673.4" y="521.6" font-size="40.0" fill="#000" font-family="'Liberation Serif', 'DejaVu Serif', serif">(</text>
<text x="1684.5" y="521.6" font-size="40.0" fill="#000" font-family="'Liberation Serif', 'DejaVu Serif', serif" font-style="italic">x</text>
<text x="1707.5" y="527.6" font-size="28.8" fill="#000" font-family="'Liberation Serif', 'DejaVu Serif', serif" font-style="italic">t</text>
<text x="1722.0" y="521.6" font-size="40.0" fill="#000" font-family="'Liberation Serif', 'DejaVu Serif', serif">,</text>
<text x="1737.5" y="521.6" font-size="40.0" fill="#000" font-family="'Liberation Serif', 'DejaVu Serif', serif" font-style="italic">t</text>
<text x="1754.2" y="521.6" font-size="40.0" fill="#000" font-family="'Liberation Serif', 'DejaVu Serif', serif">)</text>
<text x="1769.5" y="521.6" font-size="40.0" fill="#000" font-family="'Liberation Serif', 'DejaVu Serif', serif">)</text>
<text x="1784.1" y="521.6" font-size="40.0" fill="#000" font-family="'Liberation Serif', 'DejaVu Serif', serif">)</text>
<text x="985.0" y="576.0" font-size="32.6" font-family="'Liberation Serif', 'Times New Roman', serif" fill="#48316c" textLength="928.5" lengthAdjust="spacing">Derive an uncertainty iteration principle to characterize the uncertainty</text>
<text x="942.5" y="616.8" font-size="32.6" font-family="'Liberation Serif', 'Times New Roman', serif" fill="#48316c" textLength="132.0" lengthAdjust="spacing">dynamics.</text>
<text x="939.5" y="663.8" font-size="32.6" font-family="'Liberation Serif', 'Times New Roman', serif" fill="#48316c" textLength="453.5" lengthAdjust="spacing">Take DDPM sampler for example:</text>
<text x="937.5" y="741.6" font-size="32.6" font-family="'Liberation Serif', 'Times New Roman', serif" fill="#48316c" textLength="193.5" lengthAdjust="spacing">Sampling rule:</text>
<text x="939.5" y="820.8" font-size="32.6" font-family="'Liberation Serif', 'Times New Roman', serif" fill="#48316c" textLength="338.5" lengthAdjust="spacing">Uncertainty iteration rule:</text>
<text x="1191.5" y="731.6" font-size="33.0" fill="#000" font-family="'Liberation Serif', 'DejaVu Serif', serif" font-weight="bold">x</text>
<text x="1212.5" y="737.2" font-size="23.8" fill="#000" font-family="'Liberation Serif', 'DejaVu Serif', serif" font-style="italic">t</text>
<text x="978.40" y="737.2" transform="scale(1.25,1)" font-size="23.8" fill="#000" font-family="'Liberation Serif', 'DejaVu Serif', serif">−</text>
<text x="1244.0" y="737.2" font-size="23.8" fill="#000" font-family="'Liberation Serif', 'DejaVu Serif', serif">1</text>
<text x="952.63" y="731.6" transform="scale(1.33,1)" font-size="33.0" fill="#000" font-family="'Liberation Serif', 'DejaVu Serif', serif">=</text>
<text x="1331.8" y="709.6" font-size="33.0" fill="#000" font-family="'Liberation Serif', 'DejaVu Serif', serif">1</text>
<text x="1339.3" y="760.0" font-size="33.0" fill="#000" font-family="'Liberation Serif', 'DejaVu Serif', serif" font-style="italic">α</text>
<text x="1359.0" y="761.5" font-size="36.3" fill="#000" font-family="'Liberation Serif', 'DejaVu Serif', serif">′</text>
<text x="1360.0" y="767.6" font-size="23.8" fill="#000" font-family="'Liberation Serif', 'DejaVu Serif', serif" font-style="italic">t</text>
<text x="1378.0" y="731.6" font-size="33.0" fill="#000" font-family="'Liberation Serif', 'DejaVu Serif', serif">(</text>
<text x="1388.0" y="731.6" font-size="33.0" fill="#000" font-family="'Liberation Serif', 'DejaVu Serif', serif" font-weight="bold">x</text>
<text x="1409.0" y="737.2" font-size="23.8" fill="#000" font-family="'Liberation Serif', 'DejaVu Serif', serif" font-style="italic">t</text>
<text x="1143.20" y="731.6" transform="scale(1.25,1)" font-size="33.0" fill="#000" font-family="'Liberation Serif', 'DejaVu Serif', serif">−</text>
<text x="1483.2" y="709.6" font-size="33.0" fill="#000" font-family="'Liberation Serif', 'DejaVu Serif', serif">1</text>
<text x="1205.20" y="709.6" transform="scale(1.25,1)" font-size="33.0" fill="#000" font-family="'Liberation Serif', 'DejaVu Serif', serif">−</text>
<text x="1539.0" y="709.6" font-size="33.0" fill="#000" font-family="'Liberation Serif', 'DejaVu Serif', serif" font-style="italic">α</text>
<text x="1557.0" y="711.1" font-size="36.3" fill="#000" font-family="'Liberation Serif', 'DejaVu Serif', serif">′</text>
<text x="1560.5" y="717.1" font-size="23.8" fill="#000" font-family="'Liberation Serif', 'DejaVu Serif', serif" font-style="italic">t</text>
<text x="1500.1" y="759.8" font-size="33.0" fill="#000" font-family="'Liberation Serif', 'DejaVu Serif', serif">1</text>
<text x="1218.80" y="759.8" transform="scale(1.25,1)" font-size="33.0" fill="#000" font-family="'Liberation Serif', 'DejaVu Serif', serif">−</text>
<text x="1555.5" y="759.8" font-size="33.0" fill="#000" font-family="'Liberation Serif', 'DejaVu Serif', serif" font-style="italic">ᾱ</text>
<text x="1574.0" y="761.3" font-size="36.3" fill="#000" font-family="'Liberation Serif', 'DejaVu Serif', serif">′</text>
<text x="1577.0" y="767.3" font-size="23.8" fill="#000" font-family="'Liberation Serif', 'DejaVu Serif', serif" font-style="italic">t</text>
<text x="1592.0" y="731.6" font-size="33.0" fill="#000" font-family="'Liberation Serif', 'DejaVu Serif', serif" font-weight="bold" font-style="italic">ϵ</text>
<text x="1608.0" y="737.2" font-size="23.8" fill="#000" font-family="'Liberation Serif', 'DejaVu Serif', serif" font-style="italic">t</text>
<text x="1620.8" y="731.6" font-size="33.0" fill="#000" font-family="'Liberation Serif', 'DejaVu Serif', serif">)</text>
<text x="1312.80" y="731.6" transform="scale(1.25,1)" font-size="33.0" fill="#000" font-family="'Liberation Serif', 'DejaVu Serif', serif">+</text>
<text x="1706.0" y="731.6" font-size="33.0" fill="#000" font-family="'Liberation Serif', 'DejaVu Serif', serif" font-style="italic">β</text>
<text x="1726.0" y="737.2" font-size="23.8" fill="#000" font-family="'Liberation Serif', 'DejaVu Serif', serif" font-style="italic">t</text>
<text x="1737.0" y="731.6" font-size="33.0" fill="#000" font-family="'Liberation Serif', 'DejaVu Serif', serif" font-weight="bold">z</text>
<line x1="1305.2" y1="723.3" x2="1371.3" y2="723.3" stroke="#000" stroke-width="1.6" />
<path d="M1308.8,753.0 L1314.2,749.8 L1322.3,769.5 L1338.7,730.1" fill="none" stroke="#000" stroke-width="1.6" stroke-linejoin="miter"/>
<line x1="1338.7" y1="730.1" x2="1371.3" y2="730.1" stroke="#000" stroke-width="1.6" />
<line x1="1464.7" y1="723.7" x2="1587.5" y2="723.7" stroke="#000" stroke-width="1.6" />
<path d="M1468.7,753.0 L1473.8,749.9 L1481.6,769.7 L1497.3,730.0" fill="none" stroke="#000" stroke-width="1.6" stroke-linejoin="miter"/>
<line x1="1497.3" y1="730.0" x2="1587.5" y2="730.0" stroke="#000" stroke-width="1.6" />
<path d="M1676.6,723.8 L1682.1,720.7 L1690.2,740.6 L1706.9,700.7" fill="none" stroke="#000" stroke-width="1.6" stroke-linejoin="miter"/>
<line x1="1706.9" y1="700.7" x2="1736.6" y2="700.7" stroke="#000" stroke-width="1.6" />
<text x="1182.0" y="878.9" font-size="31.5" fill="#000" font-family="'Liberation Serif', 'DejaVu Serif', serif" font-style="italic">E</text>
<text x="1208.3" y="878.9" font-size="31.5" fill="#000" font-family="'Liberation Serif', 'DejaVu Serif', serif">(</text>
<text x="1217.5" y="878.9" font-size="31.5" fill="#000" font-family="'Liberation Serif', 'DejaVu Serif', serif" font-weight="bold">x</text>
<text x="1236.8" y="883.9" font-size="22.7" fill="#000" font-family="'Liberation Serif', 'DejaVu Serif', serif" font-style="italic">t</text>
<text x="997.20" y="883.9" transform="scale(1.25,1)" font-size="22.7" fill="#000" font-family="'Liberation Serif', 'DejaVu Serif', serif">−</text>
<text x="1265.3" y="883.9" font-size="22.7" fill="#000" font-family="'Liberation Serif', 'DejaVu Serif', serif">1</text>
<text x="1278.7" y="878.9" font-size="31.5" fill="#000" font-family="'Liberation Serif', 'DejaVu Serif', serif">)</text>
<text x="976.32" y="878.9" transform="scale(1.33,1)" font-size="31.5" fill="#000" font-family="'Liberation Serif', 'DejaVu Serif', serif">=</text>
<text x="1357.8" y="858.0" font-size="31.5" fill="#000" font-family="'Liberation Serif', 'DejaVu Serif', serif">1</text>
<text x="1364.3" y="903.4" font-size="31.5" fill="#000" font-family="'Liberation Serif', 'DejaVu Serif', serif" font-style="italic">α</text>
<text x="1384.0" y="904.9" font-size="34.7" fill="#000" font-family="'Liberation Serif', 'DejaVu Serif', serif">′</text>
<text x="1384.0" y="911.5" font-size="22.7" fill="#000" font-family="'Liberation Serif', 'DejaVu Serif', serif" font-style="italic">t</text>
<text x="1397.0" y="878.9" font-size="31.5" fill="#000" font-family="'Liberation Serif', 'DejaVu Serif', serif" font-style="italic">E</text>
<text x="1423.7" y="878.9" font-size="31.5" fill="#000" font-family="'Liberation Serif', 'DejaVu Serif', serif">(</text>
<text x="1433.0" y="878.9" font-size="31.5" fill="#000" font-family="'Liberation Serif', 'DejaVu Serif', serif" font-weight="bold">x</text>
<text x="1452.2" y="883.9" font-size="22.7" fill="#000" font-family="'Liberation Serif', 'DejaVu Serif', serif" font-style="italic">t</text>
<text x="1463.3" y="878.9" font-size="31.5" fill="#000" font-family="'Liberation Serif', 'DejaVu Serif', serif">)</text>
<text x="1185.76" y="878.9" transform="scale(1.25,1)" font-size="31.5" fill="#000" font-family="'Liberation Serif', 'DejaVu Serif', serif">−</text>
<text x="1558.4" y="858.0" font-size="31.5" fill="#000" font-family="'Liberation Serif', 'DejaVu Serif', serif">1</text>
<text x="1264.40" y="858.0" transform="scale(1.25,1)" font-size="31.5" fill="#000" font-family="'Liberation Serif', 'DejaVu Serif', serif">−</text>
<text x="1609.0" y="858.0" font-size="31.5" fill="#000" font-family="'Liberation Serif', 'DejaVu Serif', serif" font-style="italic">α</text>
<text x="1625.5" y="859.5" font-size="34.7" fill="#000" font-family="'Liberation Serif', 'DejaVu Serif', serif">′</text>
<text x="1627.0" y="865.4" font-size="22.7" fill="#000" font-family="'Liberation Serif', 'DejaVu Serif', serif" font-style="italic">t</text>
<text x="1545.6" y="903.4" font-size="31.5" fill="#000" font-family="'Liberation Serif', 'DejaVu Serif', serif" font-style="italic">α</text>
<text x="1563.0" y="904.9" font-size="34.7" fill="#000" font-family="'Liberation Serif', 'DejaVu Serif', serif">′</text>
<text x="1565.0" y="911.5" font-size="22.7" fill="#000" font-family="'Liberation Serif', 'DejaVu Serif', serif" font-style="italic">t</text>
<text x="1578.3" y="903.4" font-size="31.5" fill="#000" font-family="'Liberation Serif', 'DejaVu Serif', serif">(</text>
<text x="1588.8" y="903.4" font-size="31.5" fill="#000" font-family="'Liberation Serif', 'DejaVu Serif', serif">1</text>
<text x="1288.64" y="903.4" transform="scale(1.25,1)" font-size="31.5" fill="#000" font-family="'Liberation Serif', 'DejaVu Serif', serif">−</text>
<text x="1639.3" y="903.4" font-size="31.5" fill="#000" font-family="'Liberation Serif', 'DejaVu Serif', serif" font-style="italic">ᾱ</text>
<text x="1657.0" y="904.9" font-size="34.7" fill="#000" font-family="'Liberation Serif', 'DejaVu Serif', serif">′</text>
<text x="1659.2" y="911.5" font-size="22.7" fill="#000" font-family="'Liberation Serif', 'DejaVu Serif', serif" font-style="italic">t</text>
<text x="1669.7" y="903.4" font-size="31.5" fill="#000" font-family="'Liberation Serif', 'DejaVu Serif', serif">)</text>
<text x="1684.3" y="878.9" font-size="31.5" fill="#000" font-family="'Liberation Serif', 'DejaVu Serif', serif" font-style="italic">E</text>
<text x="1711.0" y="878.9" font-size="31.5" fill="#000" font-family="'Liberation Serif', 'DejaVu Serif', serif">(</text>
<text x="1721.5" y="878.9" font-size="31.5" fill="#000" font-family="'Liberation Serif', 'DejaVu Serif', serif" font-weight="bold" font-style="italic">ϵ</text>
<text x="1735.5" y="883.9" font-size="22.7" fill="#000" font-family="'Liberation Serif', 'DejaVu Serif', serif" font-style="italic">t</text>
<text x="1747.1" y="878.9" font-size="31.5" fill="#000" font-family="'Liberation Serif', 'DejaVu Serif', serif">)</text>
<line x1="1333.4" y1="870.8" x2="1393.4" y2="870.8" stroke="#000" stroke-width="1.6" />
<path d="M1337.5,897.6 L1342.2,894.8 L1349.3,912.7 L1363.7,876.8" fill="none" stroke="#000" stroke-width="1.6" stroke-linejoin="miter"/>
<line x1="1363.7" y1="876.8" x2="1393.4" y2="876.8" stroke="#000" stroke-width="1.6" />
<line x1="1514.7" y1="870.8" x2="1680.7" y2="870.8" stroke="#000" stroke-width="1.6" />
<path d="M1518.2,897.6 L1523.1,894.8 L1530.5,912.7 L1545.6,876.8" fill="none" stroke="#000" stroke-width="1.6" stroke-linejoin="miter"/>
<line x1="1545.6" y1="876.8" x2="1680.7" y2="876.8" stroke="#000" stroke-width="1.6" />
<text x="939.5" y="968.4" font-size="32.0" fill="#000" font-family="'Liberation Serif', 'DejaVu Serif', serif" font-style="italic">V</text>
<text x="963.5" y="968.4" font-size="32.0" fill="#000" font-family="'Liberation Serif', 'DejaVu Serif', serif" font-style="italic">a</text>
<text x="981.0" y="968.4" font-size="32.0" fill="#000" font-family="'Liberation Serif', 'DejaVu Serif', serif" font-style="italic">r</text>
<text x="996.8" y="968.4" font-size="32.0" fill="#000" font-family="'Liberation Serif', 'DejaVu Serif', serif">(</text>
<text x="1005.5" y="968.4" font-size="32.0" fill="#000" font-family="'Liberation Serif', 'DejaVu Serif', serif" font-weight="bold">x</text>
<text x="1024.8" y="973.4" font-size="23.0" fill="#000" font-family="'Liberation Serif', 'DejaVu Serif', serif" font-style="italic">t</text>
<text x="827.76" y="973.4" transform="scale(1.25,1)" font-size="23.0" fill="#000" font-family="'Liberation Serif', 'DejaVu Serif', serif">−</text>
<text x="1053.3" y="973.4" font-size="23.0" fill="#000" font-family="'Liberation Serif', 'DejaVu Serif', serif">1</text>
<text x="1066.7" y="968.4" font-size="32.0" fill="#000" font-family="'Liberation Serif', 'DejaVu Serif', serif">)</text>
<text x="816.99" y="968.4" transform="scale(1.33,1)" font-size="32.0" fill="#000" font-family="'Liberation Serif', 'DejaVu Serif', serif">=</text>
<text x="1131.3" y="947.0" font-size="32.0" fill="#000" font-family="'Liberation Serif', 'DejaVu Serif', serif">1</text>
<text x="1121.4" y="989.0" font-size="32.0" fill="#000" font-family="'Liberation Serif', 'DejaVu Serif', serif" font-style="italic">α</text>
<text x="1142.0" y="990.5" font-size="35.2" fill="#000" font-family="'Liberation Serif', 'DejaVu Serif', serif">′</text>
<text x="1142.0" y="997.0" font-size="23.0" fill="#000" font-family="'Liberation Serif', 'DejaVu Serif', serif" font-style="italic">t</text>
<text x="1155.5" y="968.4" font-size="32.0" fill="#000" font-family="'Liberation Serif', 'DejaVu Serif', serif" font-style="italic">V</text>
<text x="1180.1" y="968.4" font-size="32.0" fill="#000" font-family="'Liberation Serif', 'DejaVu Serif', serif" font-style="italic">a</text>
<text x="1197.6" y="968.4" font-size="32.0" fill="#000" font-family="'Liberation Serif', 'DejaVu Serif', serif" font-style="italic">r</text>
<text x="1214.0" y="968.4" font-size="32.0" fill="#000" font-family="'Liberation Serif', 'DejaVu Serif', serif">(</text>
<text x="1221.5" y="968.4" font-size="32.0" fill="#000" font-family="'Liberation Serif', 'DejaVu Serif', serif" font-weight="bold">x</text>
<text x="1240.7" y="973.4" font-size="23.0" fill="#000" font-family="'Liberation Serif', 'DejaVu Serif', serif" font-style="italic">t</text>
<text x="1251.8" y="968.4" font-size="32.0" fill="#000" font-family="'Liberation Serif', 'DejaVu Serif', serif">)</text>
<text x="1016.88" y="968.4" transform="scale(1.25,1)" font-size="32.0" fill="#000" font-family="'Liberation Serif', 'DejaVu Serif', serif">−</text>
<text x="1300.7" y="968.4" font-size="32.0" fill="#000" font-family="'Liberation Serif', 'DejaVu Serif', serif">2</text>
<text x="1350.8" y="947.0" font-size="32.0" fill="#000" font-family="'Liberation Serif', 'DejaVu Serif', serif">1</text>
<text x="1097.92" y="947.0" transform="scale(1.25,1)" font-size="32.0" fill="#000" font-family="'Liberation Serif', 'DejaVu Serif', serif">−</text>
<text x="1401.4" y="947.0" font-size="32.0" fill="#000" font-family="'Liberation Serif', 'DejaVu Serif', serif" font-style="italic">α</text>
<text x="1420.0" y="948.5" font-size="35.2" fill="#000" font-family="'Liberation Serif', 'DejaVu Serif', serif">′</text>
<text x="1421.2" y="955.2" font-size="23.0" fill="#000" font-family="'Liberation Serif', 'DejaVu Serif', serif" font-style="italic">t</text>
<text x="1319.9" y="993.0" font-size="32.0" fill="#000" font-family="'Liberation Serif', 'DejaVu Serif', serif" font-style="italic">α</text>
<text x="1337.0" y="994.5" font-size="35.2" fill="#000" font-family="'Liberation Serif', 'DejaVu Serif', serif">′</text>
<text x="1339.1" y="1001.2" font-size="23.0" fill="#000" font-family="'Liberation Serif', 'DejaVu Serif', serif" font-style="italic">t</text>
<text x="1381.0" y="993.0" font-size="32.0" fill="#000" font-family="'Liberation Serif', 'DejaVu Serif', serif">1</text>
<text x="1122.16" y="993.0" transform="scale(1.25,1)" font-size="32.0" fill="#000" font-family="'Liberation Serif', 'DejaVu Serif', serif">−</text>
<text x="1432.3" y="993.0" font-size="32.0" fill="#000" font-family="'Liberation Serif', 'DejaVu Serif', serif" font-style="italic">ᾱ</text>
<text x="1450.0" y="994.5" font-size="35.2" fill="#000" font-family="'Liberation Serif', 'DejaVu Serif', serif">′</text>
<text x="1450.3" y="1001.2" font-size="23.0" fill="#000" font-family="'Liberation Serif', 'DejaVu Serif', serif" font-style="italic">t</text>
<text x="1465.0" y="968.4" font-size="32.0" fill="#000" font-family="'Liberation Serif', 'DejaVu Serif', serif" font-style="italic">C</text>
<text x="1489.9" y="968.4" font-size="32.0" fill="#000" font-family="'Liberation Serif', 'DejaVu Serif', serif" font-style="italic">o</text>
<text x="1504.6" y="968.4" font-size="32.0" fill="#000" font-family="'Liberation Serif', 'DejaVu Serif', serif" font-style="italic">v</text>
<text x="1522.7" y="968.4" font-size="32.0" fill="#000" font-family="'Liberation Serif', 'DejaVu Serif', serif">(</text>
<text x="1531.4" y="968.4" font-size="32.0" fill="#000" font-family="'Liberation Serif', 'DejaVu Serif', serif" font-weight="bold">x</text>
<text x="1549.5" y="973.4" font-size="23.0" fill="#000" font-family="'Liberation Serif', 'DejaVu Serif', serif" font-style="italic">t</text>
<text x="1562.3" y="968.4" font-size="32.0" fill="#000" font-family="'Liberation Serif', 'DejaVu Serif', serif">,</text>
<text x="1575.1" y="968.4" font-size="32.0" fill="#000" font-family="'Liberation Serif', 'DejaVu Serif', serif" font-weight="bold" font-style="italic">ϵ</text>
<text x="1589.1" y="973.4" font-size="23.0" fill="#000" font-family="'Liberation Serif', 'DejaVu Serif', serif" font-style="italic">t</text>
<text x="1600.1" y="968.4" font-size="32.0" fill="#000" font-family="'Liberation Serif', 'DejaVu Serif', serif">)</text>
<text x="1295.04" y="968.4" transform="scale(1.25,1)" font-size="32.0" fill="#000" font-family="'Liberation Serif', 'DejaVu Serif', serif">+</text>
<text x="1662.4" y="947.0" font-size="32.0" fill="#000" font-family="'Liberation Serif', 'DejaVu Serif', serif">(</text>
<text x="1673.5" y="947.0" font-size="32.0" fill="#000" font-family="'Liberation Serif', 'DejaVu Serif', serif">1</text>
<text x="1356.08" y="947.0" transform="scale(1.25,1)" font-size="32.0" fill="#000" font-family="'Liberation Serif', 'DejaVu Serif', serif">−</text>
<text x="1724.7" y="947.0" font-size="32.0" fill="#000" font-family="'Liberation Serif', 'DejaVu Serif', serif" font-style="italic">α</text>
<text x="1743.0" y="948.5" font-size="35.2" fill="#000" font-family="'Liberation Serif', 'DejaVu Serif', serif">′</text>
<text x="1743.4" y="955.2" font-size="23.0" fill="#000" font-family="'Liberation Serif', 'DejaVu Serif', serif" font-style="italic">t</text>
<text x="1755.6" y="947.0" font-size="32.0" fill="#000" font-family="'Liberation Serif', 'DejaVu Serif', serif">)</text>
<text x="1766.7" y="934.4" font-size="23.0" fill="#000" font-family="'Liberation Serif', 'DejaVu Serif', serif">2</text>
<text x="1652.5" y="989.0" font-size="32.0" fill="#000" font-family="'Liberation Serif', 'DejaVu Serif', serif" font-style="italic">α</text>
<text x="1671.0" y="990.5" font-size="35.2" fill="#000" font-family="'Liberation Serif', 'DejaVu Serif', serif">′</text>
<text x="1672.3" y="997.0" font-size="23.0" fill="#000" font-family="'Liberation Serif', 'DejaVu Serif', serif" font-style="italic">t</text>
<text x="1683.4" y="989.0" font-size="32.0" fill="#000" font-family="'Liberation Serif', 'DejaVu Serif', serif">(</text>
<text x="1695.0" y="989.0" font-size="32.0" fill="#000" font-family="'Liberation Serif', 'DejaVu Serif', serif">1</text>
<text x="1373.84" y="989.0" transform="scale(1.25,1)" font-size="32.0" fill="#000" font-family="'Liberation Serif', 'DejaVu Serif', serif">−</text>
<text x="1746.9" y="989.0" font-size="32.0" fill="#000" font-family="'Liberation Serif', 'DejaVu Serif', serif" font-style="italic">ᾱ</text>
<text x="1765.0" y="990.5" font-size="35.2" fill="#000" font-family="'Liberation Serif', 'DejaVu Serif', serif">′</text>
<text x="1766.1" y="997.0" font-size="23.0" fill="#000" font-family="'Liberation Serif', 'DejaVu Serif', serif" font-style="italic">t</text>
<text x="1778.3" y="989.0" font-size="32.0" fill="#000" font-family="'Liberation Serif', 'DejaVu Serif', serif">)</text>
<text x="1792.5" y="968.4" font-size="32.0" fill="#000" font-family="'Liberation Serif', 'DejaVu Serif', serif" font-style="italic">V</text>
<text x="1816.9" y="968.4" font-size="32.0" fill="#000" font-family="'Liberation Serif', 'DejaVu Serif', serif" font-style="italic">a</text>
<text x="1833.2" y="968.4" font-size="32.0" fill="#000" font-family="'Liberation Serif', 'DejaVu Serif', serif" font-style="italic">r</text>
<text x="1848.4" y="968.4" font-size="32.0" fill="#000" font-family="'Liberation Serif', 'DejaVu Serif', serif">(</text>
<text x="1859.4" y="968.4" font-size="32.0" fill="#000" font-family="'Liberation Serif', 'DejaVu Serif', serif" font-weight="bold" font-style="italic">ϵ</text>
<text x="1873.4" y="973.4" font-size="23.0" fill="#000" font-family="'Liberation Serif', 'DejaVu Serif', serif" font-style="italic">t</text>
<text x="1884.5" y="968.4" font-size="32.0" fill="#000" font-family="'Liberation Serif', 'DejaVu Serif', serif">)</text>
<text x="1520.64" y="968.4" transform="scale(1.25,1)" font-size="32.0" fill="#000" font-family="'Liberation Serif', 'DejaVu Serif', serif">+</text>
<text x="1932.3" y="968.4" font-size="32.0" fill="#000" font-family="'Liberation Serif', 'DejaVu Serif', serif" font-style="italic">β</text>
<text x="1949.7" y="973.4" font-size="23.0" fill="#000" font-family="'Liberation Serif', 'DejaVu Serif', serif" font-style="italic">t</text>
<line x1="1121.3" y1="959.8" x2="1151.6" y2="959.8" stroke="#000" stroke-width="1.6" />
<line x1="1319.2" y1="959.8" x2="1461.3" y2="959.8" stroke="#000" stroke-width="1.6" />
<path d="M1353.0,987.1 L1357.7,984.2 L1364.8,1002.3 L1379.2,966.2" fill="none" stroke="#000" stroke-width="1.6" stroke-linejoin="miter"/>
<line x1="1379.2" y1="966.2" x2="1461.3" y2="966.2" stroke="#000" stroke-width="1.6" />
<line x1="1651.9" y1="959.8" x2="1787.5" y2="959.8" stroke="#000" stroke-width="1.6" />
<text x="1262.5" y="1075.7" font-size="37" font-family="'Liberation Sans', Arial, sans-serif" fill="#4b336e" font-weight="bold" textLength="356.0" lengthAdjust="spacing">Quantitative Results</text>
<rect x="979.0" y="1092.0" width="940.0" height="190.0" fill="#ffffff" opacity="0.55"/>
<line x1="990.0" y1="1103.2" x2="1906.2" y2="1103.2" stroke="#000" stroke-width="2" />
<line x1="1394.5" y1="1137.1" x2="1906.2" y2="1137.1" stroke="#555" stroke-width="1.3" />
<line x1="990.0" y1="1170.4" x2="1906.2" y2="1170.4" stroke="#222" stroke-width="1.4" />
<line x1="990.0" y1="1222.0" x2="1906.2" y2="1222.0" stroke="#333" stroke-width="1.2" />
<line x1="990.0" y1="1271.6" x2="1906.2" y2="1271.6" stroke="#000" stroke-width="2" />
<text x="1002.0" y="1137.6" font-size="19.8" font-family="'Liberation Serif', 'Times New Roman', serif" fill="#000">Model</text>
<text x="1105.4" y="1137.6" font-size="19.8" font-family="'Liberation Serif', 'Times New Roman', serif" fill="#000">Dataset</text>
<text x="1265.8" y="1137.6" font-size="19.8" font-family="'Liberation Serif', 'Times New Roman', serif" fill="#000">Sampler</text>
<text x="1472.2" y="1126.0" font-size="19.8" font-family="'Liberation Serif', 'Times New Roman', serif" fill="#000">FID ↓</text>
<text x="1629.5" y="1126.0" font-size="19.8" font-family="'Liberation Serif', 'Times New Roman', serif" fill="#000">Precision ↑</text>
<text x="1796.1" y="1126.0" font-size="19.8" font-family="'Liberation Serif', 'Times New Roman', serif" fill="#000">Recall ↑</text>
<text x="1514.2" y="1159.5" font-size="19.8" font-family="'Liberation Serif', 'Times New Roman', serif" fill="#000" text-anchor="end">random</text>
<text x="1583.4" y="1159.5" font-size="19.8" font-family="'Liberation Serif', 'Times New Roman', serif" fill="#000" text-anchor="end">ours</text>
<text x="1669.3" y="1159.5" font-size="19.8" font-family="'Liberation Serif', 'Times New Roman', serif" fill="#000" text-anchor="end">random</text>
<text x="1738.5" y="1159.5" font-size="19.8" font-family="'Liberation Serif', 'Times New Roman', serif" fill="#000" text-anchor="end">ours</text>
<text x="1824.0" y="1159.5" font-size="19.8" font-family="'Liberation Serif', 'Times New Roman', serif" fill="#000" text-anchor="end">random</text>
<text x="1893.2" y="1159.5" font-size="19.8" font-family="'Liberation Serif', 'Times New Roman', serif" fill="#000" text-anchor="end">ours</text>
<text x="1028.5" y="1192.2" font-size="19.8" font-family="'Liberation Serif', 'Times New Roman', serif" fill="#000" text-anchor="middle">ADM</text>
<text x="1129.5" y="1192.2" font-size="19.8" font-family="'Liberation Serif', 'Times New Roman', serif" fill="#000" text-anchor="middle">ImageNet 128</text>
<text x="1299.5" y="1192.2" font-size="19.8" font-family="'Liberation Serif', 'Times New Roman', serif" fill="#000" text-anchor="middle">DDIM</text>
<text x="1514.2" y="1192.2" font-size="19.8" font-family="'Liberation Serif', 'Times New Roman', serif" fill="#000" text-anchor="end">8.68 ± 0.04</text>
<text x="1583.4" y="1192.2" font-size="19.8" font-family="'Liberation Serif', 'Times New Roman', serif" fill="#000" text-anchor="end">8.48</text>
<text x="1669.3" y="1192.2" font-size="19.8" font-family="'Liberation Serif', 'Times New Roman', serif" fill="#000" text-anchor="end">0.661</text>
<text x="1738.5" y="1192.2" font-size="19.8" font-family="'Liberation Serif', 'Times New Roman', serif" fill="#000" text-anchor="end">0.665</text>
<text x="1824.0" y="1192.2" font-size="19.8" font-family="'Liberation Serif', 'Times New Roman', serif" fill="#000" text-anchor="end">0.655</text>
<text x="1893.2" y="1192.2" font-size="19.8" font-family="'Liberation Serif', 'Times New Roman', serif" fill="#000" text-anchor="end">0.653</text>
<text x="1028.5" y="1214.5" font-size="19.8" font-family="'Liberation Serif', 'Times New Roman', serif" fill="#000" text-anchor="middle">ADM</text>
<text x="1129.5" y="1214.5" font-size="19.8" font-family="'Liberation Serif', 'Times New Roman', serif" fill="#000" text-anchor="middle">ImageNet 128</text>
<text x="1299.5" y="1214.5" font-size="19.8" font-family="'Liberation Serif', 'Times New Roman', serif" fill="#000" text-anchor="middle">2-order DPM-Solver</text>
<text x="1514.2" y="1214.5" font-size="19.8" font-family="'Liberation Serif', 'Times New Roman', serif" fill="#000" text-anchor="end">9.77 ± 0.03</text>
<text x="1583.4" y="1214.5" font-size="19.8" font-family="'Liberation Serif', 'Times New Roman', serif" fill="#000" text-anchor="end">9.67</text>
<text x="1669.3" y="1214.5" font-size="19.8" font-family="'Liberation Serif', 'Times New Roman', serif" fill="#000" text-anchor="end">0.657</text>
<text x="1738.5" y="1214.5" font-size="19.8" font-family="'Liberation Serif', 'Times New Roman', serif" fill="#000" text-anchor="end">0.659</text>
<text x="1824.0" y="1214.5" font-size="19.8" font-family="'Liberation Serif', 'Times New Roman', serif" fill="#000" text-anchor="end">0.649</text>
<text x="1893.2" y="1214.5" font-size="19.8" font-family="'Liberation Serif', 'Times New Roman', serif" fill="#000" text-anchor="end">0.649</text>
<text x="1028.5" y="1238.1" font-size="19.8" font-family="'Liberation Serif', 'Times New Roman', serif" fill="#000" text-anchor="middle">U-ViT</text>
<text x="1129.5" y="1238.1" font-size="19.8" font-family="'Liberation Serif', 'Times New Roman', serif" fill="#000" text-anchor="middle">ImageNet 256</text>
<text x="1299.5" y="1238.1" font-size="19.8" font-family="'Liberation Serif', 'Times New Roman', serif" fill="#000" text-anchor="middle">2-order DPM-Solver</text>
<text x="1514.2" y="1238.1" font-size="19.8" font-family="'Liberation Serif', 'Times New Roman', serif" fill="#000" text-anchor="end">7.24 ± 0.02</text>
<text x="1583.4" y="1238.1" font-size="19.8" font-family="'Liberation Serif', 'Times New Roman', serif" fill="#000" text-anchor="end">6.81</text>
<text x="1669.3" y="1238.1" font-size="19.8" font-family="'Liberation Serif', 'Times New Roman', serif" fill="#000" text-anchor="end">0.698</text>
<text x="1738.5" y="1238.1" font-size="19.8" font-family="'Liberation Serif', 'Times New Roman', serif" fill="#000" text-anchor="end">0.705</text>
<text x="1824.0" y="1238.1" font-size="19.8" font-family="'Liberation Serif', 'Times New Roman', serif" fill="#000" text-anchor="end">0.658</text>
<text x="1893.2" y="1238.1" font-size="19.8" font-family="'Liberation Serif', 'Times New Roman', serif" fill="#000" text-anchor="end">0.657</text>
<text x="1028.5" y="1260.2" font-size="19.8" font-family="'Liberation Serif', 'Times New Roman', serif" fill="#000" text-anchor="middle">U-ViT</text>
<text x="1129.5" y="1260.2" font-size="19.8" font-family="'Liberation Serif', 'Times New Roman', serif" fill="#000" text-anchor="middle">ImageNet 512</text>
<text x="1299.5" y="1260.2" font-size="19.8" font-family="'Liberation Serif', 'Times New Roman', serif" fill="#000" text-anchor="middle">2-order DPM-Solver</text>
<text x="1514.2" y="1260.2" font-size="19.8" font-family="'Liberation Serif', 'Times New Roman', serif" fill="#000" text-anchor="end">17.72 ± 0.03</text>
<text x="1583.4" y="1260.2" font-size="19.8" font-family="'Liberation Serif', 'Times New Roman', serif" fill="#000" text-anchor="end">16.87</text>
<text x="1669.3" y="1260.2" font-size="19.8" font-family="'Liberation Serif', 'Times New Roman', serif" fill="#000" text-anchor="end">0.728</text>
<text x="1738.5" y="1260.2" font-size="19.8" font-family="'Liberation Serif', 'Times New Roman', serif" fill="#000" text-anchor="end">0.732</text>
<text x="1824.0" y="1260.2" font-size="19.8" font-family="'Liberation Serif', 'Times New Roman', serif" fill="#000" text-anchor="end">0.602</text>
<text x="1893.2" y="1260.2" font-size="19.8" font-family="'Liberation Serif', 'Times New Roman', serif" fill="#000" text-anchor="end">0.604</text>
<text x="2160.5" y="365.9" font-size="37.5" font-family="'Liberation Sans', Arial, sans-serif" fill="#4b336e" font-weight="bold" textLength="331.0" lengthAdjust="spacing">Qualitative Results</text>
<rect x="2014.4" y="387.4" width="605.5" height="306.3" fill="#fff" />
<svg x="2016.9" y="389.4" width="69.7" height="70.1" viewBox="2016.9 389.4 69.7 70.1" overflow="hidden"><rect x="2016.9" y="389.4" width="69.7" height="70.1" fill="#8a8a72"/><rect x="2016.9" y="389.4" width="69.7" height="70.1" fill="#000" filter="url(#tex1)" opacity="0.22"/><g transform="translate(2016.90,389.40) scale(0.6970,0.7010)"><g stroke="#3a3228" stroke-width="1.6" opacity="0.55" fill="none"><path d="M0,20 L40,45 L60,90"/><path d="M10,100 L35,60 L90,10"/><path d="M50,0 L45,40 L100,70"/><path d="M0,70 L30,80"/></g><g fill="#dfe8f0" opacity="0.45"><ellipse cx="20" cy="30" rx="6" ry="9"/><ellipse cx="85" cy="45" rx="5" ry="8"/><ellipse cx="40" cy="85" rx="7" ry="5"/></g><ellipse cx="58" cy="58" rx="12.75" ry="25.5" fill="#3a2a20" transform="rotate(-12 58 58)"/><ellipse cx="55.195" cy="31.225" rx="7.6499999999999995" ry="7.6499999999999995" fill="#f2f2ee"/><ellipse cx="59.445" cy="32.925000000000004" rx="2.55" ry="1.7" fill="#e0b030"/></g></svg>
<svg x="2086.0" y="389.4" width="69.1" height="70.1" viewBox="2086.0 389.4 69.1 70.1" overflow="hidden"><rect x="2086.0" y="389.4" width="69.1" height="70.1" fill="#857f68"/><rect x="2086.0" y="389.4" width="69.1" height="70.1" fill="#000" filter="url(#tex1)" opacity="0.22"/><g transform="translate(2086.00,389.40) scale(0.6910,0.7010)"><g stroke="#3a3228" stroke-width="1.6" opacity="0.55" fill="none"><path d="M0,20 L40,45 L60,90"/><path d="M10,100 L35,60 L90,10"/><path d="M50,0 L45,40 L100,70"/><path d="M0,70 L30,80"/></g><g fill="#dfe8f0" opacity="0.45"><ellipse cx="20" cy="30" rx="6" ry="9"/><ellipse cx="85" cy="45" rx="5" ry="8"/><ellipse cx="40" cy="85" rx="7" ry="5"/></g><ellipse cx="78" cy="60" rx="20" ry="40" fill="#33261c" transform="rotate(-10 78 60)"/><ellipse cx="74" cy="22" rx="6" ry="7" fill="#3a2c1e"/></g></svg>
<svg x="2016.9" y="458.9" width="69.7" height="70.1" viewBox="2016.9 458.9 69.7 70.1" overflow="hidden"><rect x="2016.9" y="458.9" width="69.7" height="70.1" fill="#8c96a6"/><rect x="2016.9" y="458.9" width="69.7" height="70.1" fill="#000" filter="url(#tex1)" opacity="0.22"/><g transform="translate(2016.90,458.90) scale(0.6970,0.7010)"><g stroke="#3a3228" stroke-width="1.6" opacity="0.55" fill="none"><path d="M0,20 L40,45 L60,90"/><path d="M10,100 L35,60 L90,10"/><path d="M50,0 L45,40 L100,70"/><path d="M0,70 L30,80"/></g><g fill="#dfe8f0" opacity="0.45"><ellipse cx="20" cy="30" rx="6" ry="9"/><ellipse cx="85" cy="45" rx="5" ry="8"/><ellipse cx="40" cy="85" rx="7" ry="5"/></g><ellipse cx="45" cy="60" rx="13.5" ry="27.0" fill="#3a2a20"/><ellipse cx="46.98" cy="33.0" rx="8.1" ry="8.1" fill="#f2f2ee"/><ellipse cx="51.48" cy="34.8" rx="2.7" ry="1.8" fill="#e0b030"/></g></svg>
<svg x="2086.0" y="458.9" width="69.1" height="70.1" viewBox="2086.0 458.9 69.1 70.1" overflow="hidden"><rect x="2086.0" y="458.9" width="69.1" height="70.1" fill="#98999a"/><rect x="2086.0" y="458.9" width="69.1" height="70.1" fill="#000" filter="url(#tex1)" opacity="0.22"/><g transform="translate(2086.00,458.90) scale(0.6910,0.7010)"><g stroke="#3a3228" stroke-width="1.6" opacity="0.55" fill="none"><path d="M0,20 L40,45 L60,90"/><path d="M10,100 L35,60 L90,10"/><path d="M50,0 L45,40 L100,70"/><path d="M0,70 L30,80"/></g><g fill="#dfe8f0" opacity="0.45"><ellipse cx="20" cy="30" rx="6" ry="9"/><ellipse cx="85" cy="45" rx="5" ry="8"/><ellipse cx="40" cy="85" rx="7" ry="5"/></g><ellipse cx="60" cy="50" rx="18" ry="22" fill="#d8d8d4"/><ellipse cx="50" cy="62" rx="10" ry="20" fill="#3a2e24"/></g></svg>
<svg x="2016.9" y="528.4" width="69.7" height="70.1" viewBox="2016.9 528.4 69.7 70.1" overflow="hidden"><rect x="2016.9" y="528.4" width="69.7" height="70.1" fill="#8e939a"/><rect x="2016.9" y="528.4" width="69.7" height="70.1" fill="#000" filter="url(#tex1)" opacity="0.22"/><g transform="translate(2016.90,528.40) scale(0.6970,0.7010)"><g stroke="#3a3228" stroke-width="1.6" opacity="0.55" fill="none"><path d="M0,20 L40,45 L60,90"/><path d="M10,100 L35,60 L90,10"/><path d="M50,0 L45,40 L100,70"/><path d="M0,70 L30,80"/></g><g fill="#dfe8f0" opacity="0.45"><ellipse cx="20" cy="30" rx="6" ry="9"/><ellipse cx="85" cy="45" rx="5" ry="8"/><ellipse cx="40" cy="85" rx="7" ry="5"/></g><path d="M30,80 L45,55 L70,95 L62,100 Z" fill="#3e3028" /><ellipse cx="33" cy="50" rx="22" ry="11" fill="#2f241c" transform="rotate(-30 33 50)"/><ellipse cx="52" cy="38" rx="8" ry="6" fill="#f0f0ec"/></g></svg>
<svg x="2086.0" y="528.4" width="69.1" height="70.1" viewBox="2086.0 528.4 69.1 70.1" overflow="hidden"><rect x="2086.0" y="528.4" width="69.1" height="70.1" fill="#4c6eb0"/><rect x="2086.0" y="528.4" width="69.1" height="70.1" fill="#000" filter="url(#tex1)" opacity="0.22"/><g transform="translate(2086.00,528.40) scale(0.6910,0.7010)"><ellipse cx="48" cy="48" rx="22" ry="30" fill="#4a3222" transform="rotate(20 48 48)"/><ellipse cx="38" cy="22" rx="6" ry="6" fill="#5a4a2e"/><rect x="0" y="80" width="100" height="20" fill="#b0a060" opacity="0.7"/></g></svg>
<svg x="2016.9" y="597.9" width="69.7" height="69.5" viewBox="2016.9 597.9 69.7 69.5" overflow="hidden"><rect x="2016.9" y="597.9" width="69.7" height="69.5" fill="#7c7a52"/><rect x="2016.9" y="597.9" width="69.7" height="69.5" fill="#000" filter="url(#tex1)" opacity="0.22"/><g transform="translate(2016.90,597.90) scale(0.6970,0.6950)"><g stroke="#3a3228" stroke-width="1.6" opacity="0.55" fill="none"><path d="M0,20 L40,45 L60,90"/><path d="M10,100 L35,60 L90,10"/><path d="M50,0 L45,40 L100,70"/><path d="M0,70 L30,80"/></g><g fill="#dfe8f0" opacity="0.45"><ellipse cx="20" cy="30" rx="6" ry="9"/><ellipse cx="85" cy="45" rx="5" ry="8"/><ellipse cx="40" cy="85" rx="7" ry="5"/></g><ellipse cx="45" cy="55" rx="14.25" ry="28.5" fill="#5a4838"/><ellipse cx="49.18" cy="17.950000000000003" rx="8.549999999999999" ry="8.549999999999999" fill="#f2f2ee"/><ellipse cx="53.93" cy="19.85" rx="2.8499999999999996" ry="1.9" fill="#e0b030"/></g></svg>
<svg x="2086.0" y="597.9" width="69.1" height="69.5" viewBox="2086.0 597.9 69.1 69.5" overflow="hidden"><rect x="2086.0" y="597.9" width="69.1" height="69.5" fill="#8fa2b8"/><rect x="2086.0" y="597.9" width="69.1" height="69.5" fill="#000" filter="url(#tex1)" opacity="0.22"/><g transform="translate(2086.00,597.90) scale(0.6910,0.6950)"><g stroke="#3a3228" stroke-width="1.6" opacity="0.55" fill="none"><path d="M0,20 L40,45 L60,90"/><path d="M10,100 L35,60 L90,10"/><path d="M50,0 L45,40 L100,70"/><path d="M0,70 L30,80"/></g><g fill="#dfe8f0" opacity="0.45"><ellipse cx="20" cy="30" rx="6" ry="9"/><ellipse cx="85" cy="45" rx="5" ry="8"/><ellipse cx="40" cy="85" rx="7" ry="5"/></g><ellipse cx="56" cy="50" rx="20" ry="42" fill="#2e2018"/><rect x="0" y="58" width="100" height="10" fill="#6a5a4a"/></g></svg>
<svg x="2169.4" y="389.4" width="69.7" height="70.1" viewBox="2169.4 389.4 69.7 70.1" overflow="hidden"><rect x="2169.4" y="389.4" width="69.7" height="70.1" fill="#909eb4"/><rect x="2169.4" y="389.4" width="69.7" height="70.1" fill="#000" filter="url(#tex1)" opacity="0.22"/><g transform="translate(2169.40,389.40) scale(0.6970,0.7010)"><g transform="translate(60,45) rotate(-20) scale(0.8)"><path d="M-40,-10 C-20,-18 -5,-8 0,0 C5,-8 20,-22 42,-14 C25,-5 12,6 0,10 C-12,6 -28,0 -40,-10 Z" fill="#2c2018" /><ellipse cx="0" cy="4" rx="14" ry="8" fill="#3a2a20"/><ellipse cx="16" cy="-2" rx="6" ry="5.5" fill="#f0f0ea"/><ellipse cx="-14" cy="8" rx="6" ry="3" fill="#e8e8e0"/></g></g></svg>
<svg x="2238.5" y="389.4" width="69.1" height="70.1" viewBox="2238.5 389.4 69.1 70.1" overflow="hidden"><rect x="2238.5" y="389.4" width="69.1" height="70.1" fill="#a6a6b0"/><rect x="2238.5" y="389.4" width="69.1" height="70.1" fill="#000" filter="url(#tex1)" opacity="0.22"/><g transform="translate(2238.50,389.40) scale(0.6910,0.7010)"><g transform="translate(50,40) rotate(0) scale(0.85)"><path d="M-40,-10 C-20,-18 -5,-8 0,0 C5,-8 20,-22 42,-14 C25,-5 12,6 0,10 C-12,6 -28,0 -40,-10 Z" fill="#2c2018" /><ellipse cx="0" cy="4" rx="14" ry="8" fill="#3a2a20"/><ellipse cx="16" cy="-2" rx="6" ry="5.5" fill="#f0f0ea"/><ellipse cx="-14" cy="8" rx="6" ry="3" fill="#e8e8e0"/></g><path d="M60,100 L65,80 L70,100 L75,78 L80,100 L88,82 L92,100 Z" fill="#3a3a3a" /></g></svg>
<svg x="2169.4" y="458.9" width="69.7" height="70.1" viewBox="2169.4 458.9 69.7 70.1" overflow="hidden"><rect x="2169.4" y="458.9" width="69.7" height="70.1" fill="#8aa0c2"/><rect x="2169.4" y="458.9" width="69.7" height="70.1" fill="#000" filter="url(#tex1)" opacity="0.22"/><g transform="translate(2169.40,458.90) scale(0.6970,0.7010)"><ellipse cx="35" cy="55" rx="28" ry="24" fill="#3c2a1c"/><ellipse cx="58" cy="30" rx="12" ry="18" fill="#f2f2ee"/></g></svg>
<svg x="2238.5" y="458.9" width="69.1" height="70.1" viewBox="2238.5 458.9 69.1 70.1" overflow="hidden"><rect x="2238.5" y="458.9" width="69.1" height="70.1" fill="#9ca8b8"/><rect x="2238.5" y="458.9" width="69.1" height="70.1" fill="#000" filter="url(#tex1)" opacity="0.22"/><g transform="translate(2238.50,458.90) scale(0.6910,0.7010)"><ellipse cx="35" cy="45" rx="22" ry="30" fill="#f4f4f0"/><ellipse cx="70" cy="85" rx="40" ry="25" fill="#3a2818"/><ellipse cx="20" cy="30" rx="6" ry="3" fill="#e0b030"/></g></svg>
<svg x="2169.4" y="528.4" width="69.7" height="70.1" viewBox="2169.4 528.4 69.7 70.1" overflow="hidden"><rect x="2169.4" y="528.4" width="69.7" height="70.1" fill="#8e9ab2"/><rect x="2169.4" y="528.4" width="69.7" height="70.1" fill="#000" filter="url(#tex1)" opacity="0.22"/><g transform="translate(2169.40,528.40) scale(0.6970,0.7010)"><g transform="translate(42,48) rotate(25) scale(0.9)"><path d="M-40,-10 C-20,-18 -5,-8 0,0 C5,-8 20,-22 42,-14 C25,-5 12,6 0,10 C-12,6 -28,0 -40,-10 Z" fill="#2c2018" /><ellipse cx="0" cy="4" rx="14" ry="8" fill="#3a2a20"/><ellipse cx="16" cy="-2" rx="6" ry="5.5" fill="#f0f0ea"/><ellipse cx="-14" cy="8" rx="6" ry="3" fill="#e8e8e0"/></g></g></svg>
<svg x="2238.5" y="528.4" width="69.1" height="70.1" viewBox="2238.5 528.4 69.1 70.1" overflow="hidden"><rect x="2238.5" y="528.4" width="69.1" height="70.1" fill="#9c9eb8"/><rect x="2238.5" y="528.4" width="69.1" height="70.1" fill="#000" filter="url(#tex1)" opacity="0.22"/><g transform="translate(2238.50,528.40) scale(0.6910,0.7010)"><ellipse cx="65" cy="50" rx="20" ry="26" fill="#3a2818"/><ellipse cx="45" cy="38" rx="11" ry="9" fill="#f2f2ee"/><rect x="0" y="88" width="100" height="12" fill="#8a8060"/></g></svg>
<svg x="2169.4" y="597.9" width="69.7" height="69.5" viewBox="2169.4 597.9 69.7 69.5" overflow="hidden"><rect x="2169.4" y="597.9" width="69.7" height="69.5" fill="#a4a4b6"/><rect x="2169.4" y="597.9" width="69.7" height="69.5" fill="#000" filter="url(#tex1)" opacity="0.22"/><g transform="translate(2169.40,597.90) scale(0.6970,0.6950)"><ellipse cx="55" cy="40" rx="28" ry="14" fill="#201810"/><ellipse cx="28" cy="45" rx="12" ry="9" fill="#f2f2ee"/><path d="M40,100 L55,60 L65,62 L58,100 Z" fill="#3a2e26" /></g></svg>
<svg x="2238.5" y="597.9" width="69.1" height="69.5" viewBox="2238.5 597.9 69.1 69.5" overflow="hidden"><rect x="2238.5" y="597.9" width="69.1" height="69.5" fill="#887e7e"/><rect x="2238.5" y="597.9" width="69.1" height="69.5" fill="#000" filter="url(#tex1)" opacity="0.22"/><g transform="translate(2238.50,597.90) scale(0.6910,0.6950)"><ellipse cx="68" cy="45" rx="30" ry="32" fill="#f6f6f2"/><ellipse cx="70" cy="90" rx="45" ry="25" fill="#2e2218"/><ellipse cx="45" cy="45" rx="8" ry="4" fill="#e0b030"/></g></svg>
<svg x="2328.0" y="389.4" width="69.7" height="70.1" viewBox="2328.0 389.4 69.7 70.1" overflow="hidden"><rect x="2328.0" y="389.4" width="69.7" height="70.1" fill="#6a6458"/><rect x="2328.0" y="389.4" width="69.7" height="70.1" fill="#000" filter="url(#tex1)" opacity="0.22"/><g transform="translate(2328.00,389.40) scale(0.6970,0.7010)"><ellipse cx="45" cy="45" rx="28" ry="22" fill="#a8a8a0"/><ellipse cx="30" cy="30" rx="10" ry="9" fill="#c0c0b8"/></g></svg>
<svg x="2397.1" y="389.4" width="69.1" height="70.1" viewBox="2397.1 389.4 69.1 70.1" overflow="hidden"><rect x="2397.1" y="389.4" width="69.1" height="70.1" fill="#6c6860"/><rect x="2397.1" y="389.4" width="69.1" height="70.1" fill="#000" filter="url(#tex1)" opacity="0.22"/><g transform="translate(2397.10,389.40) scale(0.6910,0.7010)"><g transform="translate(55,45) rotate(35) scale(0.75)"><ellipse cx="0" cy="0" rx="30" ry="11" fill="#c8cabc"/><ellipse cx="-30" cy="-2" rx="13" ry="9" fill="#8aa040"/><path d="M28,0 C45,2 60,8 75,18 L72,22 C58,12 44,8 28,6 Z" fill="#c8cabc" /><rect x="-12" y="6" width="5" height="14" fill="#8aa040"/><rect x="12" y="6" width="5" height="14" fill="#8aa040"/></g></g></svg>
<svg x="2328.0" y="458.9" width="69.7" height="70.1" viewBox="2328.0 458.9 69.7 70.1" overflow="hidden"><rect x="2328.0" y="458.9" width="69.7" height="70.1" fill="#5c4c3e"/><rect x="2328.0" y="458.9" width="69.7" height="70.1" fill="#000" filter="url(#tex1)" opacity="0.22"/><g transform="translate(2328.00,458.90) scale(0.6970,0.7010)"><g transform="translate(55,55) rotate(-5) scale(0.75)"><ellipse cx="0" cy="0" rx="30" ry="11" fill="#40b048"/><ellipse cx="-30" cy="-2" rx="13" ry="9" fill="#40b048"/><path d="M28,0 C45,2 60,8 75,18 L72,22 C58,12 44,8 28,6 Z" fill="#40b048" /><rect x="-12" y="6" width="5" height="14" fill="#40b048"/><rect x="12" y="6" width="5" height="14" fill="#40b048"/></g></g></svg>
<svg x="2397.1" y="458.9" width="69.1" height="70.1" viewBox="2397.1 458.9 69.1 70.1" overflow="hidden"><rect x="2397.1" y="458.9" width="69.1" height="70.1" fill="#7a6a48"/><rect x="2397.1" y="458.9" width="69.1" height="70.1" fill="#000" filter="url(#tex1)" opacity="0.22"/><g transform="translate(2397.10,458.90) scale(0.6910,0.7010)"><ellipse cx="70" cy="40" rx="20" ry="25" fill="#5a5a3c"/><rect x="0" y="70" width="60" height="30" fill="#7a8a60" opacity="0.6"/></g></svg>
<svg x="2328.0" y="528.4" width="69.7" height="70.1" viewBox="2328.0 528.4 69.7 70.1" overflow="hidden"><rect x="2328.0" y="528.4" width="69.7" height="70.1" fill="#5a4a3a"/><rect x="2328.0" y="528.4" width="69.7" height="70.1" fill="#000" filter="url(#tex1)" opacity="0.22"/><g transform="translate(2328.00,528.40) scale(0.6970,0.7010)"><g transform="translate(45,55) rotate(30) scale(0.7)"><ellipse cx="0" cy="0" rx="30" ry="11" fill="#b8c070"/><ellipse cx="-30" cy="-2" rx="13" ry="9" fill="#b8c070"/><path d="M28,0 C45,2 60,8 75,18 L72,22 C58,12 44,8 28,6 Z" fill="#b8c070" /><rect x="-12" y="6" width="5" height="14" fill="#b8c070"/><rect x="12" y="6" width="5" height="14" fill="#b8c070"/></g></g></svg>
<svg x="2397.1" y="528.4" width="69.1" height="70.1" viewBox="2397.1 528.4 69.1 70.1" overflow="hidden"><rect x="2397.1" y="528.4" width="69.1" height="70.1" fill="#5e5040"/><rect x="2397.1" y="528.4" width="69.1" height="70.1" fill="#000" filter="url(#tex1)" opacity="0.22"/><g transform="translate(2397.10,528.40) scale(0.6910,0.7010)"><g transform="translate(45,50) rotate(-25) scale(0.8)"><ellipse cx="0" cy="0" rx="30" ry="11" fill="#80a050"/><ellipse cx="-30" cy="-2" rx="13" ry="9" fill="#80a050"/><path d="M28,0 C45,2 60,8 75,18 L72,22 C58,12 44,8 28,6 Z" fill="#80a050" /><rect x="-12" y="6" width="5" height="14" fill="#80a050"/><rect x="12" y="6" width="5" height="14" fill="#80a050"/></g></g></svg>
<svg x="2328.0" y="597.9" width="69.7" height="69.5" viewBox="2328.0 597.9 69.7 69.5" overflow="hidden"><rect x="2328.0" y="597.9" width="69.7" height="69.5" fill="#7a7c6a"/><rect x="2328.0" y="597.9" width="69.7" height="69.5" fill="#000" filter="url(#tex1)" opacity="0.22"/><g transform="translate(2328.00,597.90) scale(0.6970,0.6950)"><g transform="translate(40,55) rotate(5) scale(0.8)"><ellipse cx="0" cy="0" rx="30" ry="11" fill="#8a9a70"/><ellipse cx="-30" cy="-2" rx="13" ry="9" fill="#8a9a70"/><path d="M28,0 C45,2 60,8 75,18 L72,22 C58,12 44,8 28,6 Z" fill="#8a9a70" /><rect x="-12" y="6" width="5" height="14" fill="#8a9a70"/><rect x="12" y="6" width="5" height="14" fill="#8a9a70"/></g></g></svg>
<svg x="2397.1" y="597.9" width="69.1" height="69.5" viewBox="2397.1 597.9 69.1 69.5" overflow="hidden"><rect x="2397.1" y="597.9" width="69.1" height="69.5" fill="#7c8064"/><rect x="2397.1" y="597.9" width="69.1" height="69.5" fill="#000" filter="url(#tex1)" opacity="0.22"/><g transform="translate(2397.10,597.90) scale(0.6910,0.6950)"><g transform="translate(40,50) rotate(10) scale(0.7)"><ellipse cx="0" cy="0" rx="30" ry="11" fill="#70a040"/><ellipse cx="-30" cy="-2" rx="13" ry="9" fill="#70a040"/><path d="M28,0 C45,2 60,8 75,18 L72,22 C58,12 44,8 28,6 Z" fill="#70a040" /><rect x="-12" y="6" width="5" height="14" fill="#70a040"/><rect x="12" y="6" width="5" height="14" fill="#70a040"/></g><rect x="0" y="80" width="100" height="20" fill="#c8c8c0" opacity="0.8"/></g></svg>
<svg x="2481.2" y="389.4" width="69.7" height="70.1" viewBox="2481.2 389.4 69.7 70.1" overflow="hidden"><rect x="2481.2" y="389.4" width="69.7" height="70.1" fill="#9a948e"/><rect x="2481.2" y="389.4" width="69.7" height="70.1" fill="#000" filter="url(#tex1)" opacity="0.22"/><g transform="translate(2481.20,389.40) scale(0.6970,0.7010)"><g transform="translate(45,35) scale(0.9,0.9)"><path d="M-45,70 C-45,30 -35,0 -15,-15 C5,-28 35,-25 48,-10 C52,-4 50,4 42,6 C25,10 10,20 5,40 C2,55 5,70 5,80 L-45,80 Z" fill="#5c7468" /><ellipse cx="-5" cy="-12" rx="6" ry="5" fill="#2a2a2a"/><path d="M-30,-22 L-20,-34 L-12,-22 L-2,-34 L5,-22 L14,-32 L18,-20 Z" fill="#4a5a50" /></g></g></svg>
<svg x="2550.3" y="389.4" width="69.1" height="70.1" viewBox="2550.3 389.4 69.1 70.1" overflow="hidden"><rect x="2550.3" y="389.4" width="69.1" height="70.1" fill="#8c8894"/><rect x="2550.3" y="389.4" width="69.1" height="70.1" fill="#000" filter="url(#tex1)" opacity="0.22"/><g transform="translate(2550.30,389.40) scale(0.6910,0.7010)"><g transform="translate(60,35) scale(-0.9,0.9)"><path d="M-45,70 C-45,30 -35,0 -15,-15 C5,-28 35,-25 48,-10 C52,-4 50,4 42,6 C25,10 10,20 5,40 C2,55 5,70 5,80 L-45,80 Z" fill="#6a7458" /><ellipse cx="-5" cy="-12" rx="6" ry="5" fill="#2a2a2a"/><path d="M-30,-22 L-20,-34 L-12,-22 L-2,-34 L5,-22 L14,-32 L18,-20 Z" fill="#c0c040" /></g></g></svg>
<svg x="2481.2" y="458.9" width="69.7" height="70.1" viewBox="2481.2 458.9 69.7 70.1" overflow="hidden"><rect x="2481.2" y="458.9" width="69.7" height="70.1" fill="#a09a7c"/><rect x="2481.2" y="458.9" width="69.7" height="70.1" fill="#000" filter="url(#tex1)" opacity="0.22"/><g transform="translate(2481.20,458.90) scale(0.6970,0.7010)"><g transform="translate(45,35) scale(0.95,0.95)"><path d="M-45,70 C-45,30 -35,0 -15,-15 C5,-28 35,-25 48,-10 C52,-4 50,4 42,6 C25,10 10,20 5,40 C2,55 5,70 5,80 L-45,80 Z" fill="#6a706a" /><ellipse cx="-5" cy="-12" rx="6" ry="5" fill="#2a2a2a"/><path d="M-30,-22 L-20,-34 L-12,-22 L-2,-34 L5,-22 L14,-32 L18,-20 Z" fill="#5a605a" /></g></g></svg>
<svg x="2550.3" y="458.9" width="69.1" height="70.1" viewBox="2550.3 458.9 69.1 70.1" overflow="hidden"><rect x="2550.3" y="458.9" width="69.1" height="70.1" fill="#8a8680"/><rect x="2550.3" y="458.9" width="69.1" height="70.1" fill="#000" filter="url(#tex1)" opacity="0.22"/><g transform="translate(2550.30,458.90) scale(0.6910,0.7010)"><g transform="translate(50,30) scale(0.9,0.9)"><path d="M-45,70 C-45,30 -35,0 -15,-15 C5,-28 35,-25 48,-10 C52,-4 50,4 42,6 C25,10 10,20 5,40 C2,55 5,70 5,80 L-45,80 Z" fill="#9aaa40" /><ellipse cx="-5" cy="-12" rx="6" ry="5" fill="#2a2a2a"/><path d="M-30,-22 L-20,-34 L-12,-22 L-2,-34 L5,-22 L14,-32 L18,-20 Z" fill="#c8c040" /></g></g></svg>
<svg x="2481.2" y="528.4" width="69.7" height="70.1" viewBox="2481.2 528.4 69.7 70.1" overflow="hidden"><rect x="2481.2" y="528.4" width="69.7" height="70.1" fill="#a0968c"/><rect x="2481.2" y="528.4" width="69.7" height="70.1" fill="#000" filter="url(#tex1)" opacity="0.22"/><g transform="translate(2481.20,528.40) scale(0.6970,0.7010)"><g transform="translate(40,30) scale(0.95,0.95)"><path d="M-45,70 C-45,30 -35,0 -15,-15 C5,-28 35,-25 48,-10 C52,-4 50,4 42,6 C25,10 10,20 5,40 C2,55 5,70 5,80 L-45,80 Z" fill="#7a8a70" /><ellipse cx="-5" cy="-12" rx="6" ry="5" fill="#2a2a2a"/><path d="M-30,-22 L-20,-34 L-12,-22 L-2,-34 L5,-22 L14,-32 L18,-20 Z" fill="#5a6a58" /></g></g></svg>
<svg x="2550.3" y="528.4" width="69.1" height="70.1" viewBox="2550.3 528.4 69.1 70.1" overflow="hidden"><rect x="2550.3" y="528.4" width="69.1" height="70.1" fill="#7a7070"/><rect x="2550.3" y="528.4" width="69.1" height="70.1" fill="#000" filter="url(#tex1)" opacity="0.22"/><g transform="translate(2550.30,528.40) scale(0.6910,0.7010)"><g transform="translate(60,30) scale(-0.9,0.9)"><path d="M-45,70 C-45,30 -35,0 -15,-15 C5,-28 35,-25 48,-10 C52,-4 50,4 42,6 C25,10 10,20 5,40 C2,55 5,70 5,80 L-45,80 Z" fill="#7aa068" /><ellipse cx="-5" cy="-12" rx="6" ry="5" fill="#2a2a2a"/><path d="M-30,-22 L-20,-34 L-12,-22 L-2,-34 L5,-22 L14,-32 L18,-20 Z" fill="#6a9058" /></g></g></svg>
<svg x="2481.2" y="597.9" width="69.7" height="69.5" viewBox="2481.2 597.9 69.7 69.5" overflow="hidden"><rect x="2481.2" y="597.9" width="69.7" height="69.5" fill="#6a8a76"/><rect x="2481.2" y="597.9" width="69.7" height="69.5" fill="#000" filter="url(#tex1)" opacity="0.22"/><g transform="translate(2481.20,597.90) scale(0.6970,0.6950)"><g transform="translate(45,35) scale(0.9,0.9)"><path d="M-45,70 C-45,30 -35,0 -15,-15 C5,-28 35,-25 48,-10 C52,-4 50,4 42,6 C25,10 10,20 5,40 C2,55 5,70 5,80 L-45,80 Z" fill="#8aa0a4" /><ellipse cx="-5" cy="-12" rx="6" ry="5" fill="#2a2a2a"/><path d="M-30,-22 L-20,-34 L-12,-22 L-2,-34 L5,-22 L14,-32 L18,-20 Z" fill="#7a9090" /></g></g></svg>
<svg x="2550.3" y="597.9" width="69.1" height="69.5" viewBox="2550.3 597.9 69.1 69.5" overflow="hidden"><rect x="2550.3" y="597.9" width="69.1" height="69.5" fill="#807878"/><rect x="2550.3" y="597.9" width="69.1" height="69.5" fill="#000" filter="url(#tex1)" opacity="0.22"/><g transform="translate(2550.30,597.90) scale(0.6910,0.6950)"><g transform="translate(65,35) scale(-0.9,0.9)"><path d="M-45,70 C-45,30 -35,0 -15,-15 C5,-28 35,-25 48,-10 C52,-4 50,4 42,6 C25,10 10,20 5,40 C2,55 5,70 5,80 L-45,80 Z" fill="#6a7a58" /><ellipse cx="-5" cy="-12" rx="6" ry="5" fill="#2a2a2a"/><path d="M-30,-22 L-20,-34 L-12,-22 L-2,-34 L5,-22 L14,-32 L18,-20 Z" fill="#4a6a40" /></g></g></svg>
<text x="2065.5" y="687.2" font-size="16.5" font-family="'DejaVu Sans', 'Liberation Sans', sans-serif" fill="#111" textLength="188.0" lengthAdjust="spacing">A photo of a bald eagle.</text>
<text x="2383.0" y="685.5" font-size="16.5" font-family="'DejaVu Sans', 'Liberation Sans', sans-serif" fill="#111" textLength="167.0" lengthAdjust="spacing">A photo of an iguana.</text>
<text x="2030.5" y="721.2" font-size="24.6" font-family="'Liberation Serif', 'Times New Roman', serif" fill="#48316c" textLength="569.0" lengthAdjust="spacing">Comparisons between samples with high uncertanty (left)</text>
<text x="2036.5" y="750.1" font-size="24.6" font-family="'Liberation Serif', 'Times New Roman', serif" fill="#48316c" textLength="271.0" lengthAdjust="spacing">and low uncertainty (right).</text>
<rect x="2021.1" y="770.0" width="375.9" height="127.9" fill="#fff" />
<svg x="2022.9" y="771.2" width="91.9" height="91.9" viewBox="2022.9 771.2 91.9 91.9" overflow="hidden"><rect x="2022.9" y="771.2" width="91.9" height="91.9" fill="#5a7050"/><rect x="2022.9" y="771.2" width="91.9" height="91.9" fill="#000" filter="url(#tex1)" opacity="0.15"/><g transform="translate(2022.90,771.20) scale(0.9190,0.9190)"><rect x="0" y="0" width="100" height="100" fill="url(#gforest)"/><ellipse cx="88" cy="12" rx="18" ry="14" fill="#c8d0d4"/><ellipse cx="75" cy="55" rx="24" ry="16" fill="#c47a34"/><ellipse cx="72" cy="48" rx="11" ry="9" fill="#e4d0a4"/><ellipse cx="72" cy="25" rx="20" ry="20" fill="#d08838"/><path d="M55,12 L58,-2 L66,8 Z" fill="#d08838" /><path d="M82,8 L90,-2 L92,14 Z" fill="#d08838" /><ellipse cx="62" cy="20" rx="8" ry="7" fill="#1c1626"/><ellipse cx="80" cy="20" rx="8" ry="7" fill="#1c1626"/><ellipse cx="64" cy="33" rx="5" ry="5" fill="#f0d08a"/><ellipse cx="73" cy="33" rx="5" ry="5" fill="#f0d08a"/><rect x="0" y="86" width="100" height="14" fill="#4a2a3c"/><path d="M2,72 C2,64 8,62 14,62 L100,62 L100,94 L10,94 C4,94 2,90 2,86 Z" fill="#dcdcde" /><path d="M8,66 L100,65 L100,86 L12,86 Z" fill="#d6802e" /><ellipse cx="50" cy="76" rx="40" ry="6" fill="#eab050" opacity="0.8"/><ellipse cx="30" cy="70" rx="12" ry="3" fill="#b05a20" opacity="0.7"/><ellipse cx="92" cy="90" rx="8" ry="9" fill="#a02848" opacity="0.9"/><rect x="30" y="40" width="29" height="29" fill="none" stroke="#f0f030" stroke-width="1.8"/></g></svg>
<svg x="2116.0" y="771.2" width="91.5" height="91.9" viewBox="2116.0 771.2 91.5 91.9" overflow="hidden"><rect x="2116.0" y="771.2" width="91.5" height="91.9" fill="#5a7050"/><rect x="2116.0" y="771.2" width="91.5" height="91.9" fill="#000" filter="url(#tex1)" opacity="0.15"/><g transform="translate(2116.00,771.20) scale(0.9150,0.9190)"><rect x="0" y="0" width="100" height="100" fill="url(#gforest)"/><ellipse cx="88" cy="12" rx="18" ry="14" fill="#c8d0d4"/><ellipse cx="75" cy="55" rx="24" ry="16" fill="#c47a34"/><ellipse cx="72" cy="48" rx="11" ry="9" fill="#e4d0a4"/><ellipse cx="72" cy="25" rx="20" ry="20" fill="#d08838"/><path d="M55,12 L58,-2 L66,8 Z" fill="#d08838" /><path d="M82,8 L90,-2 L92,14 Z" fill="#d08838" /><ellipse cx="62" cy="20" rx="8" ry="7" fill="#1c1626"/><ellipse cx="80" cy="20" rx="8" ry="7" fill="#1c1626"/><ellipse cx="64" cy="33" rx="5" ry="5" fill="#f0d08a"/><ellipse cx="73" cy="33" rx="5" ry="5" fill="#f0d08a"/><rect x="0" y="86" width="100" height="14" fill="#4a2a3c"/><path d="M2,72 C2,64 8,62 14,62 L100,62 L100,94 L10,94 C4,94 2,90 2,86 Z" fill="#dcdcde" /><path d="M8,66 L100,65 L100,86 L12,86 Z" fill="#d6802e" /><ellipse cx="50" cy="76" rx="40" ry="6" fill="#eab050" opacity="0.8"/><ellipse cx="30" cy="70" rx="12" ry="3" fill="#b05a20" opacity="0.7"/><ellipse cx="92" cy="90" rx="8" ry="9" fill="#a02848" opacity="0.9"/><ellipse cx="40" cy="52" rx="8" ry="5" fill="#d08838"/></g></svg>
<svg x="2209.2" y="771.2" width="91.4" height="91.9" viewBox="2209.2 771.2 91.4 91.9" overflow="hidden"><rect x="2209.2" y="771.2" width="91.4" height="91.9" fill="#5a7050"/><rect x="2209.2" y="771.2" width="91.4" height="91.9" fill="#000" filter="url(#tex1)" opacity="0.15"/><g transform="translate(2209.20,771.20) scale(0.9140,0.9190)"><rect x="0" y="0" width="100" height="100" fill="url(#gtrees)"/><ellipse cx="85" cy="8" rx="20" ry="12" fill="#e0e6e2"/><path d="M0,72 L55,45 L100,40 L100,100 L0,100 Z" fill="#9c9a9c" /><path d="M0,40 L60,35 L60,38 L0,44 Z" fill="#b0b0b0" /><ellipse cx="72" cy="62" rx="22" ry="26" fill="#a0603c"/><ellipse cx="68" cy="24" rx="15" ry="15" fill="#a8643e"/><ellipse cx="57" cy="12" rx="5" ry="5" fill="#a0603c"/><ellipse cx="80" cy="12" rx="5" ry="5" fill="#a0603c"/><ellipse cx="68" cy="30" rx="7" ry="5" fill="#d8aa78"/><ellipse cx="68" cy="28" rx="2" ry="2" fill="#1a1010"/><path d="M56,40 L60,40 L62,70 L58,70 Z" fill="#2a2a40" /><path d="M80,40 L84,40 L82,70 L78,70 Z" fill="#2a2a40" /><circle cx="42" cy="100" r="14" fill="none" stroke="#1e1e28" stroke-width="4"/><path d="M30,60 L60,70 L58,74 L28,64 Z" fill="#303050" /><rect x="40.3" y="59.5" width="29.3" height="29" fill="none" stroke="#f0f030" stroke-width="1.8"/></g></svg>
<svg x="2302.1" y="771.2" width="91.7" height="91.9" viewBox="2302.1 771.2 91.7 91.9" overflow="hidden"><rect x="2302.1" y="771.2" width="91.7" height="91.9" fill="#5a7050"/><rect x="2302.1" y="771.2" width="91.7" height="91.9" fill="#000" filter="url(#tex1)" opacity="0.15"/><g transform="translate(2302.10,771.20) scale(0.9170,0.9190)"><rect x="0" y="0" width="100" height="100" fill="url(#gtrees)"/><ellipse cx="85" cy="8" rx="20" ry="12" fill="#e0e6e2"/><path d="M0,72 L55,45 L100,40 L100,100 L0,100 Z" fill="#9c9a9c" /><path d="M0,40 L60,35 L60,38 L0,44 Z" fill="#b0b0b0" /><ellipse cx="72" cy="62" rx="22" ry="26" fill="#a0603c"/><ellipse cx="68" cy="24" rx="15" ry="15" fill="#a8643e"/><ellipse cx="57" cy="12" rx="5" ry="5" fill="#a0603c"/><ellipse cx="80" cy="12" rx="5" ry="5" fill="#a0603c"/><ellipse cx="68" cy="30" rx="7" ry="5" fill="#d8aa78"/><ellipse cx="68" cy="28" rx="2" ry="2" fill="#1a1010"/><path d="M56,40 L60,40 L62,70 L58,70 Z" fill="#2a2a40" /><path d="M80,40 L84,40 L82,70 L78,70 Z" fill="#2a2a40" /><circle cx="42" cy="100" r="14" fill="none" stroke="#1e1e28" stroke-width="4"/><path d="M30,60 L60,70 L58,74 L28,64 Z" fill="#303050" /></g></svg>
<text x="2037.5" y="874.8" font-size="13.2" font-family="'DejaVu Sans', 'Liberation Sans', sans-serif" fill="#111" textLength="143.5" lengthAdjust="spacing">A Garfield in sunglasses</text>
<text x="2063.5" y="890.4" font-size="13.2" font-family="'DejaVu Sans', 'Liberation Sans', sans-serif" fill="#111" textLength="98.5" lengthAdjust="spacing">is eating lasagna</text>
<text x="2208.5" y="881.2" font-size="13.2" font-family="'DejaVu Sans', 'Liberation Sans', sans-serif" fill="#111" textLength="171.0" lengthAdjust="spacing">A teddy bear is riding a bike</text>
<svg x="2024.4" y="901.1" width="62.9" height="61.4" viewBox="2024.4 901.1 62.9 61.4" overflow="hidden"><rect x="2024.4" y="901.1" width="62.9" height="61.4" fill="#6e8446"/><rect x="2024.4" y="901.1" width="62.9" height="61.4" fill="#000" filter="url(#tex1)" opacity="0.25"/><g transform="translate(2024.40,901.10) scale(0.6290,0.6140)"><ellipse cx="80" cy="20" rx="25" ry="20" fill="#8aa058" opacity="0.5"/><ellipse cx="20" cy="80" rx="25" ry="20" fill="#587034" opacity="0.8"/><ellipse cx="58" cy="58" rx="26" ry="17" fill="#b8b4b0" transform="rotate(25 58 58)"/><ellipse cx="38" cy="38" rx="10" ry="9" fill="#8e8884"/><path d="M75,70 L98,80 L96,84 L72,76 Z" fill="#6a6058" /><ellipse cx="68" cy="60" rx="14" ry="8" fill="#8a7a6a" transform="rotate(25 68 60)"/></g></svg>
<svg x="2086.8" y="901.1" width="62.9" height="61.4" viewBox="2086.8 901.1 62.9 61.4" overflow="hidden"><rect x="2086.8" y="901.1" width="62.9" height="61.4" fill="#6c5c46"/><rect x="2086.8" y="901.1" width="62.9" height="61.4" fill="#000" filter="url(#tex1)" opacity="0.25"/><g transform="translate(2086.80,901.10) scale(0.6290,0.6140)"><ellipse cx="30" cy="85" rx="18" ry="10" fill="#5a7a3a" opacity="0.6"/><ellipse cx="55" cy="45" rx="26" ry="11" fill="#b4b2b2" transform="rotate(12 55 45)"/><ellipse cx="28" cy="36" rx="9" ry="8" fill="#c4c2c4"/><path d="M75,48 L100,58 L98,62 L72,54 Z" fill="#8a8888" /></g></svg>
<svg x="2149.2" y="901.1" width="62.9" height="61.4" viewBox="2149.2 901.1 62.9 61.4" overflow="hidden"><rect x="2149.2" y="901.1" width="62.9" height="61.4" fill="#4e4438"/><rect x="2149.2" y="901.1" width="62.9" height="61.4" fill="#000" filter="url(#tex1)" opacity="0.25"/><g transform="translate(2149.20,901.10) scale(0.6290,0.6140)"><ellipse cx="42" cy="60" rx="30" ry="22" fill="#dcd4c0"/><ellipse cx="66" cy="46" rx="26" ry="17" fill="#6a5638" transform="rotate(15 66 46)"/><ellipse cx="30" cy="30" rx="12" ry="10" fill="#5a4a34"/><ellipse cx="25" cy="42" rx="7" ry="8" fill="#e8e2d4"/></g></svg>
<svg x="2211.6" y="901.1" width="62.9" height="61.4" viewBox="2211.6 901.1 62.9 61.4" overflow="hidden"><rect x="2211.6" y="901.1" width="62.9" height="61.4" fill="#5c504e"/><rect x="2211.6" y="901.1" width="62.9" height="61.4" fill="#000" filter="url(#tex1)" opacity="0.25"/><g transform="translate(2211.60,901.10) scale(0.6290,0.6140)"><rect x="0" y="76" width="100" height="24" fill="#8a8072"/><ellipse cx="44" cy="48" rx="17" ry="20" fill="#9a9aa0"/><ellipse cx="40" cy="58" rx="12" ry="12" fill="#d0ccc8"/><ellipse cx="38" cy="30" rx="11" ry="8" fill="#8a8888"/><path d="M55,62 L95,88 L92,92 L52,67 Z" fill="#3a3230" /></g></svg>
<svg x="2274.0" y="901.1" width="62.9" height="61.4" viewBox="2274.0 901.1 62.9 61.4" overflow="hidden"><rect x="2274.0" y="901.1" width="62.9" height="61.4" fill="#9c9ea4"/><rect x="2274.0" y="901.1" width="62.9" height="61.4" fill="#000" filter="url(#tex1)" opacity="0.25"/><g transform="translate(2274.00,901.10) scale(0.6290,0.6140)"><path d="M5,100 L60,55 L100,30 L100,34 L62,60 L10,100 Z" fill="#6a5040" /><path d="M55,100 L62,60 L66,62 L60,100 Z" fill="#6a5040" /><ellipse cx="35" cy="48" rx="14" ry="20" fill="#6e5a48"/><ellipse cx="32" cy="38" rx="7" ry="8" fill="#eae6e2"/><ellipse cx="33" cy="25" rx="9" ry="7" fill="#5a4a3a"/></g></svg>
<svg x="2336.4" y="901.1" width="62.9" height="61.4" viewBox="2336.4 901.1 62.9 61.4" overflow="hidden"><rect x="2336.4" y="901.1" width="62.9" height="61.4" fill="#7e7a5a"/><rect x="2336.4" y="901.1" width="62.9" height="61.4" fill="#000" filter="url(#tex1)" opacity="0.25"/><g transform="translate(2336.40,901.10) scale(0.6290,0.6140)"><path d="M0,98 L100,5 L100,9 L4,100 Z" fill="#8a7a5a" /><ellipse cx="38" cy="48" rx="14" ry="20" fill="#b09a78"/><ellipse cx="40" cy="40" rx="9" ry="9" fill="#e8e4dc"/><ellipse cx="42" cy="25" rx="9" ry="7" fill="#9a8a6a"/></g></svg>
<rect x="2024.4" y="962.5" width="62.9" height="63.3" fill="#161622"/><rect x="2024.4" y="962.5" width="62.9" height="63.3" fill="#fff" filter="url(#cloud)" opacity="0.65"/><rect x="2024.4" y="962.5" width="62.9" height="63.3" fill="#fff" filter="url(#speck)" opacity="0.7"/><g transform="translate(2024.40,962.5) scale(0.6240,0.633)"><ellipse cx="45" cy="50" rx="28" ry="18" fill="#fff" filter="url(#cloudin)" opacity="0.9" transform="rotate(25 45 50)"/></g>
<rect x="2086.8" y="962.5" width="62.9" height="63.3" fill="#3a3a3a"/><rect x="2086.8" y="962.5" width="62.9" height="63.3" fill="#fff" filter="url(#cloud)" opacity="1.0"/><rect x="2086.8" y="962.5" width="62.9" height="63.3" fill="#fff" filter="url(#speck)" opacity="0.9"/><g transform="translate(2086.80,962.5) scale(0.6240,0.633)"><ellipse cx="50" cy="40" rx="28" ry="10" fill="#111" opacity="0.45"/></g>
<rect x="2149.2" y="962.5" width="62.9" height="63.3" fill="#4a4a4a"/><rect x="2149.2" y="962.5" width="62.9" height="63.3" fill="#fff" filter="url(#cloud)" opacity="1.0"/><rect x="2149.2" y="962.5" width="62.9" height="63.3" fill="#fff" filter="url(#speck)" opacity="0.9"/><g transform="translate(2149.20,962.5) scale(0.6240,0.633)"><ellipse cx="40" cy="55" rx="22" ry="18" fill="#111" opacity="0.55"/></g>
<rect x="2211.6" y="962.5" width="62.9" height="63.3" fill="#050505"/><rect x="2211.6" y="962.5" width="62.9" height="63.3" fill="#fff" filter="url(#cloud)" opacity="0.12"/><rect x="2211.6" y="962.5" width="62.9" height="63.3" fill="#fff" filter="url(#speck)" opacity="0.35"/><g transform="translate(2211.60,962.5) scale(0.6240,0.633)"><ellipse cx="45" cy="45" rx="18" ry="24" fill="#fff" filter="url(#cloudin)"/><rect x="0" y="78" width="100" height="22" fill="#fff" filter="url(#cloudin)" opacity="0.7"/></g>
<rect x="2274.0" y="962.5" width="62.9" height="63.3" fill="#050505"/><rect x="2274.0" y="962.5" width="62.9" height="63.3" fill="#fff" filter="url(#cloud)" opacity="0.12"/><rect x="2274.0" y="962.5" width="62.9" height="63.3" fill="#fff" filter="url(#speck)" opacity="0.35"/><g transform="translate(2274.00,962.5) scale(0.6240,0.633)"><ellipse cx="35" cy="45" rx="16" ry="24" fill="#fff" filter="url(#cloudin)"/><path d="M5,100 L60,55 L100,30" stroke="#aaa" stroke-width="3" fill="none" opacity="0.6"/></g>
<rect x="2336.4" y="962.5" width="62.9" height="63.3" fill="#050505"/><rect x="2336.4" y="962.5" width="62.9" height="63.3" fill="#fff" filter="url(#cloud)" opacity="0.12"/><rect x="2336.4" y="962.5" width="62.9" height="63.3" fill="#fff" filter="url(#speck)" opacity="0.35"/><g transform="translate(2336.40,962.5) scale(0.6240,0.633)"><ellipse cx="38" cy="45" rx="15" ry="24" fill="#fff" filter="url(#cloudin)"/><path d="M0,98 L100,5" stroke="#aaa" stroke-width="3" fill="none" opacity="0.6"/></g>
<text x="2415.0" y="797.3" font-size="24.6" font-family="'Liberation Serif', 'Times New Roman', serif" fill="#48316c" textLength="198.5" lengthAdjust="spacing">Examples of artifact</text>
<text x="2415.0" y="825.8" font-size="24.6" font-family="'Liberation Serif', 'Times New Roman', serif" fill="#48316c" textLength="152.5" lengthAdjust="spacing">rectification for</text>
<text x="2415.0" y="855.7" font-size="24.6" font-family="'Liberation Serif', 'Times New Roman', serif" fill="#48316c" textLength="138.0" lengthAdjust="spacing">txt2img tasks.</text>
<text x="2416.0" y="940.9" font-size="24.6" font-family="'Liberation Serif', 'Times New Roman', serif" fill="#48316c" textLength="167.5" lengthAdjust="spacing">Visualizations of</text>
<text x="2415.0" y="970.0" font-size="24.6" font-family="'Liberation Serif', 'Times New Roman', serif" fill="#48316c" textLength="225.5" lengthAdjust="spacing">pixel-wise uncertainty.</text>
<text x="2234.5" y="1080.7" font-size="37" font-family="'Liberation Sans', Arial, sans-serif" fill="#4b336e" font-weight="bold" textLength="201.0" lengthAdjust="spacing">References</text>
<text x="2018.0" y="1112.0" font-size="15.3" font-family="'Liberation Serif', 'Times New Roman', serif" fill="#48316c" textLength="596.5" lengthAdjust="spacing">[1]  Erik Daxberger, Agustinus Kristiadi, Alexander Immer, Runa Eschenhagen, Matthias Bauer,</text>
<text x="2019.0" y="1130.1" font-size="15.3" font-family="'Liberation Serif', 'Times New Roman', serif" fill="#48316c" textLength="554.0" lengthAdjust="spacing">and  Philipp Hennig. Laplace redux-effortless bayesian deep learning. Advances in Neural</text>
<text x="2019.0" y="1148.5" font-size="15.3" font-family="'Liberation Serif', 'Times New Roman', serif" fill="#48316c" textLength="363.5" lengthAdjust="spacing">Information  Processing Systems, 34:20089–20103, 2021a.</text>
<text x="2018.0" y="1166.8" font-size="15.3" font-family="'Liberation Serif', 'Times New Roman', serif" fill="#48316c" textLength="550.0" lengthAdjust="spacing">[2]  Jonathan Ho, Ajay Jain, and Pieter Abbeel. Denoising diffusion probabilistic models.</text>
<text x="2019.0" y="1185.0" font-size="15.3" font-family="'Liberation Serif', 'Times New Roman', serif" fill="#48316c" textLength="463.0" lengthAdjust="spacing">Advances in Neural Information Processing Systems, 33:6840–6851, 2020.</text>
<text x="2018.0" y="1203.1" font-size="15.3" font-family="'Liberation Serif', 'Times New Roman', serif" fill="#48316c" textLength="574.0" lengthAdjust="spacing">[3]  Robin Rombach, Andreas Blattmann, Dominik Lorenz, Patrick Esser, and Bjorn Ommer.</text>
<text x="2019.0" y="1221.5" font-size="15.3" font-family="'Liberation Serif', 'Times New Roman', serif" fill="#48316c" textLength="584.5" lengthAdjust="spacing">High-resolution image synthesis with latent diffusion models. In Proceedings of the IEEE/CVF</text>
<text x="2019.0" y="1239.8" font-size="15.3" font-family="'Liberation Serif', 'Times New Roman', serif" fill="#48316c" textLength="493.5" lengthAdjust="spacing">conference on computer vision and pattern recognition, pp. 10684–10695, 2022.</text>
<text x="2018.0" y="1258.6" font-size="15.3" font-family="'Liberation Serif', 'Times New Roman', serif" fill="#48316c" textLength="596.5" lengthAdjust="spacing">[4]  Cheng Lu, Yuhao Zhou, Fan Bao, Jianfei Chen, Chongxuan Li, and Jun Zhu. Dpm-solver: A</text>
<text x="2018.0" y="1277.2" font-size="15.3" font-family="'Liberation Serif', 'Times New Roman', serif" fill="#48316c" textLength="599.0" lengthAdjust="spacing">fast ode solver for diffusion probabilistic model sampling in around 10 steps. Advances in Neural</text>
<text x="2019.0" y="1295.5" font-size="15.3" font-family="'Liberation Serif', 'Times New Roman', serif" fill="#48316c" textLength="337.0" lengthAdjust="spacing">Information Processing Systems, 35:5775–5787, 2022.</text>
</svg></body></html>
